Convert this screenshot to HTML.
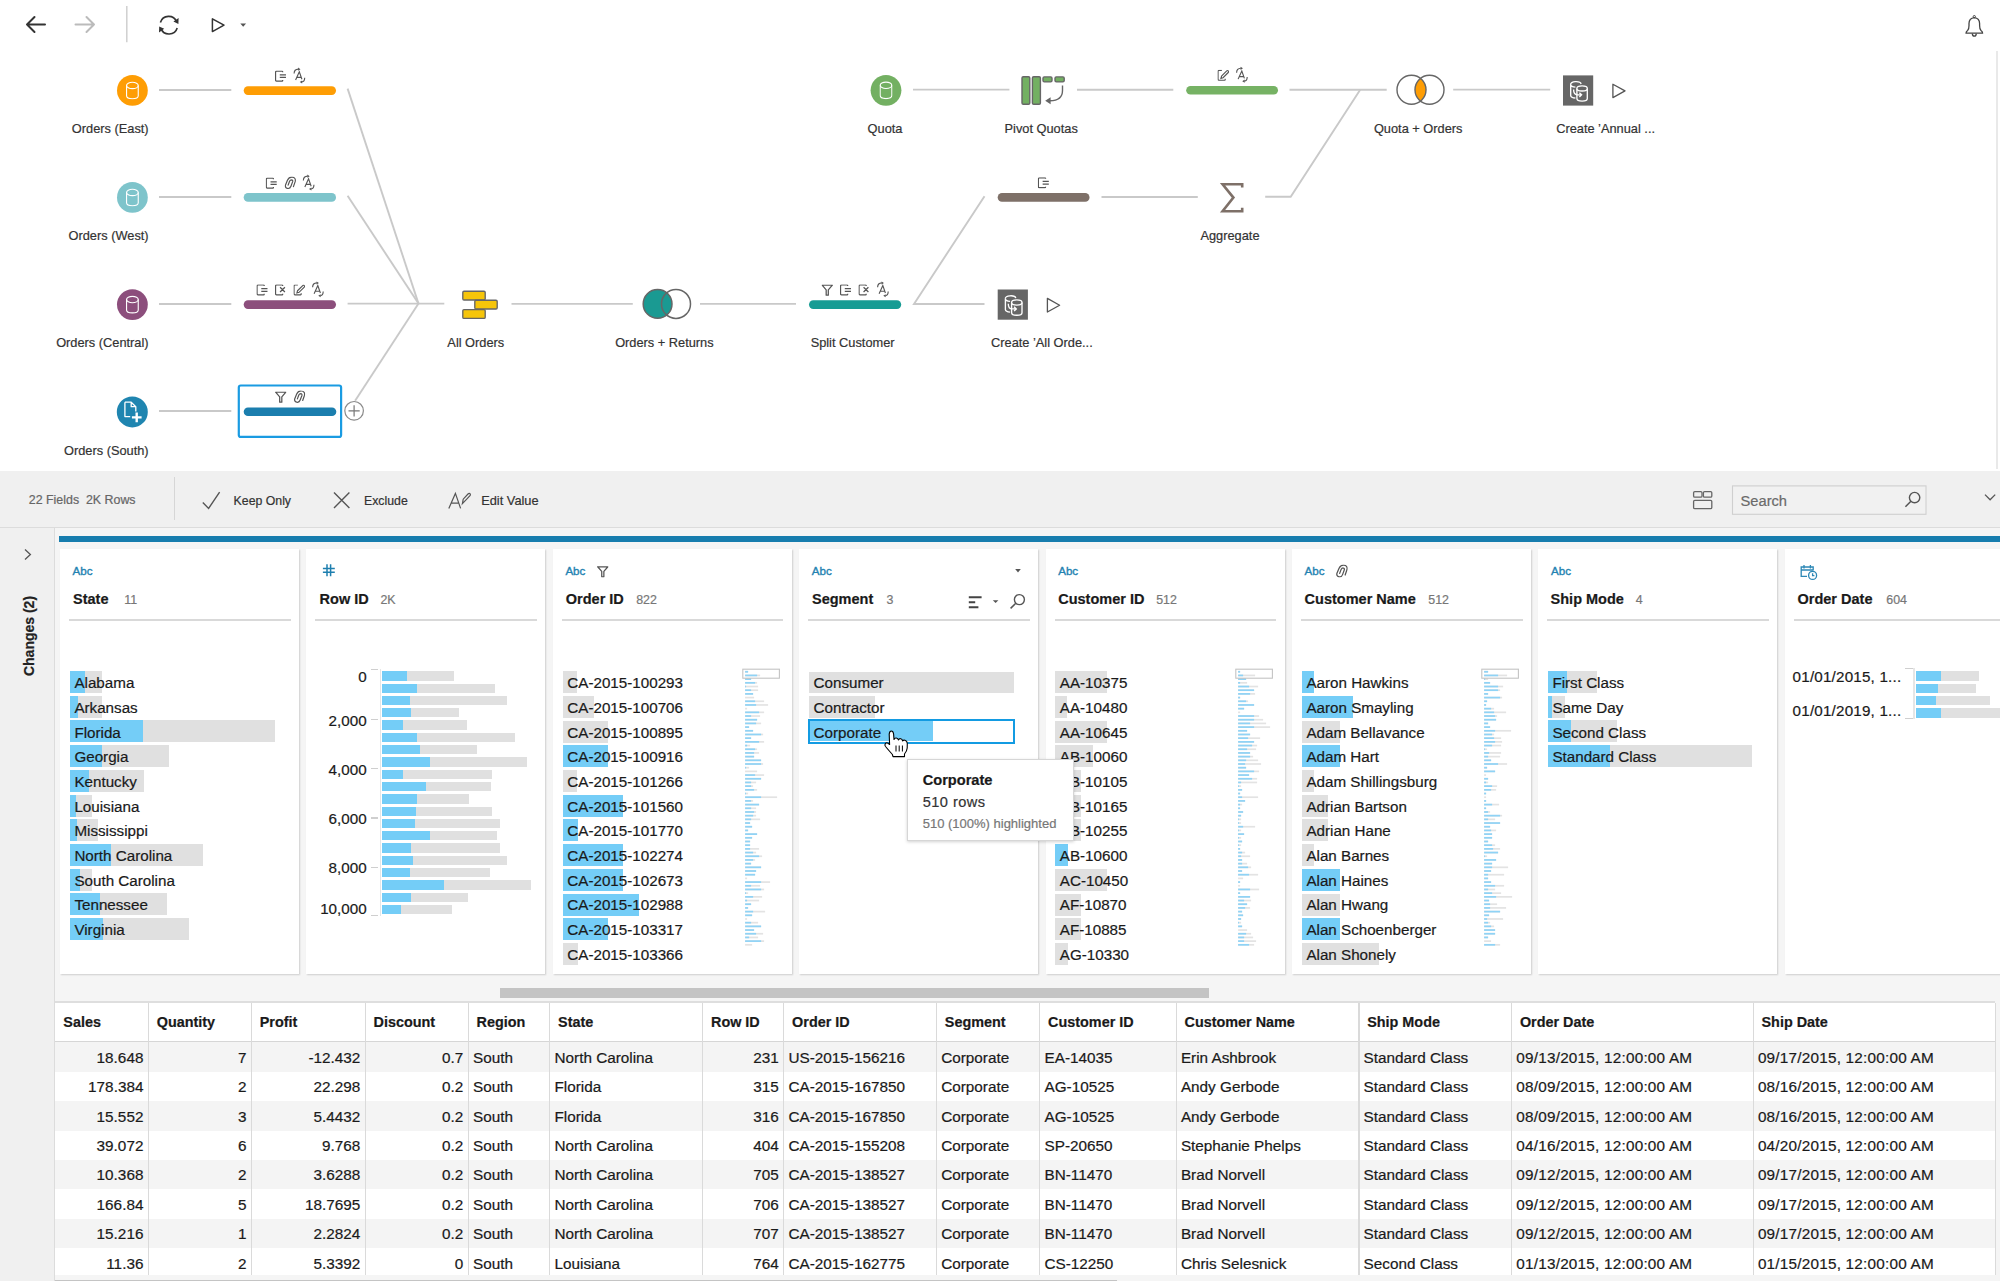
<!DOCTYPE html><html><head><meta charset="utf-8"><title>Tableau Prep</title><style>
*{margin:0;padding:0;box-sizing:border-box}
html,body{width:2000px;height:1281px;overflow:hidden}
body{position:relative;background:#fff;font-family:"Liberation Sans",sans-serif;color:#333}
.a{position:absolute}
.t{position:absolute;white-space:nowrap;line-height:1;-webkit-text-stroke:0.2px currentColor}
svg{position:absolute;overflow:visible}

</style></head><body>
<svg width="0" height="0" style="left:0;top:0"><defs>
<symbol id="i-clean" viewBox="0 0 12 12"><path d="M8 1.6V1.2Q8 .6 7.4 .6H1.6Q.6 .6 .6 1.6V9.8Q.6 10.8 1.6 10.8H7.4Q8 10.8 8 10.2V9.8M5 4.3H11.4M5 7.1H11.4" fill="none" stroke="#555" stroke-width="1.3"/></symbol>
<symbol id="i-remove" viewBox="0 0 12 12"><path d="M8 1.6V1.2Q8 .6 7.4 .6H1.6Q.6 .6 .6 1.6V9.8Q.6 10.8 1.6 10.8H7.4Q8 10.8 8 10.2V9.8M5.3 3 L10.3 7.8M10.3 3L5.3 7.8" fill="none" stroke="#555" stroke-width="1.3"/></symbol>
<symbol id="i-edit" viewBox="0 0 12 12"><path d="M4.6 .6H1.6Q.6 .6 .6 1.6V9.8Q.6 10.8 1.6 10.8H7.4Q8 10.8 8 10.2V9.2M4.2 6.6L9.6 1.2Q10.4 .4 11.2 1.2Q12 2 11.2 2.8L5.8 8.2L3.6 8.8Z" fill="none" stroke="#555" stroke-width="1.2"/></symbol>
<symbol id="i-rename" viewBox="0 0 14 15" style="overflow:visible"><g fill="none" stroke="#555" stroke-width="1.2"><path d="M2.85 12.6L6.85 3.8L9.65 11.8M4.1 9.9H9M1.25 5.6Q1.3 1.1 5.8 .9M12.65 10.3Q12.6 14.6 9.6 14.8"/></g><path d="M8.1 1L5.5 -.7L5.5 2.7Z M7.3 14.8L9.9 13.1L9.9 16.5Z" fill="#555"/></symbol>
<symbol id="i-funnel" viewBox="0 0 12 12"><path d="M.7 .8H11.3L7.1 5.6V11.2H4.9V5.6Z" fill="none" stroke="#555" stroke-width="1.3" stroke-linejoin="round"/></symbol>
<symbol id="i-clip" viewBox="0 0 12 13"><path d="M9.35 10.4L11.15 5.2Q12.15 1 7.95 .6Q4.75 .4 3.15 3.8L1.15 8.6Q.35 11.4 3.15 12.2Q5.75 12.8 6.75 10L8.55 5.2Q8.95 3.6 7.35 3.4Q5.95 3.4 5.35 4.8L3.85 8.8" fill="none" stroke="#555" stroke-width="1.25" stroke-linecap="round" stroke-linejoin="round"/></symbol>
<symbol id="i-cyl" viewBox="0 0 14 19"><path d="M.8 4.2V15.1Q.8 18.3 7 18.3Q13.2 18.3 13.2 15.1V4.2" fill="none" stroke="#fff" stroke-width="1.2"/><ellipse cx="7" cy="4.2" rx="6.2" ry="3.4" fill="none" stroke="#fff" stroke-width="1.2"/></symbol>
</defs></svg>
<svg class="a" style="left:0;top:0" width="260" height="50">
<path d="M27 24.5H45M34.5 17L27 24.5L34.5 32" fill="none" stroke="#333" stroke-width="2" stroke-linecap="round" stroke-linejoin="round"/>
<path d="M75.5 24.5H94M86.5 17L94 24.5L86.5 32" fill="none" stroke="#bbb" stroke-width="2" stroke-linecap="round" stroke-linejoin="round"/>
<line x1="126.8" y1="6" x2="126.8" y2="42.3" stroke="#cfcfcf" stroke-width="1.5"/>
<path d="M160.4 22.5A8.6 8.6 0 0 1 176.6 21.8M177.2 27.9A8.6 8.6 0 0 1 161 28.6" fill="none" stroke="#333" stroke-width="1.6"/>
<path d="M178.6 18L178.4 23.9L173.4 21.6Z M159 32.4L159.2 26.5L164.2 28.8Z" fill="#333"/>
<path d="M212.4 18.8V31.6L224 25.2Z" fill="none" stroke="#333" stroke-width="1.5" stroke-linejoin="round"/>
<path d="M240.3 23.4H246.1L243.2 26.7Z" fill="#555"/>
</svg>
<svg class="a" style="left:1960.4px;top:10.8px" width="30" height="30">
<path d="M6 22.2Q6 20.8 7.6 19.6Q9 18.4 9 14.5V12.5Q9 7.2 14.3 6.6Q19.6 7.2 19.6 12.5V14.5Q19.6 18.4 21 19.6Q22.6 20.8 22.6 22.2Z" fill="none" stroke="#444" stroke-width="1.3" stroke-linejoin="round"/>
<path d="M12.3 22.6Q12.6 25.2 14.3 25.2Q16 25.2 16.3 22.6" fill="none" stroke="#444" stroke-width="1.3"/>
<circle cx="14.3" cy="5.6" r="1.1" fill="none" stroke="#444" stroke-width="1"/>
</svg>
<div class="a" style="left:1995.80px;top:51.00px;width:1.80px;height:418.00px;background:#e9e9e9;"></div>
<svg class="a" style="left:0;top:0" width="2000" height="471"><line x1="159" y1="90" x2="231.3" y2="90" stroke="#c9c9c9" stroke-width="1.9"/><line x1="159" y1="197" x2="231.3" y2="197" stroke="#c9c9c9" stroke-width="1.9"/><line x1="159" y1="304" x2="231.3" y2="304" stroke="#c9c9c9" stroke-width="1.9"/><line x1="159" y1="411" x2="231.3" y2="411" stroke="#c9c9c9" stroke-width="1.9"/><line x1="347.6" y1="88.6" x2="418.5" y2="303.6" stroke="#c9c9c9" stroke-width="1.9"/><line x1="347.6" y1="195.8" x2="418.5" y2="303.6" stroke="#c9c9c9" stroke-width="1.9"/><line x1="347.6" y1="303.6" x2="444.3" y2="303.6" stroke="#c9c9c9" stroke-width="1.9"/><line x1="355.1" y1="400.8" x2="418.5" y2="303.6" stroke="#c9c9c9" stroke-width="1.9"/><line x1="511.5" y1="303.9" x2="632.8" y2="303.9" stroke="#c9c9c9" stroke-width="1.9"/><line x1="700" y1="303.9" x2="796" y2="303.9" stroke="#c9c9c9" stroke-width="1.9"/><polyline points="984.5,196.2 914,304 984.5,304" fill="none" stroke="#c9c9c9" stroke-width="1.9" stroke-linejoin="miter"/><line x1="913" y1="89.6" x2="1009.4" y2="89.6" stroke="#c9c9c9" stroke-width="1.9"/><line x1="1077" y1="89.7" x2="1173.3" y2="89.7" stroke="#c9c9c9" stroke-width="1.9"/><line x1="1289.5" y1="89.7" x2="1386.7" y2="89.7" stroke="#c9c9c9" stroke-width="1.9"/><polyline points="1265.2,196.8 1290.7,196.8 1360.2,89.7" fill="none" stroke="#c9c9c9" stroke-width="1.9" stroke-linejoin="miter"/><line x1="1101.5" y1="197" x2="1197.8" y2="197" stroke="#c9c9c9" stroke-width="1.9"/><line x1="1453.2" y1="89.6" x2="1550.2" y2="89.6" stroke="#c9c9c9" stroke-width="1.9"/><circle cx="132.4" cy="90.4" r="15.4" fill="#FE9D04"/><use href="#i-cyl" x="125.8" y="81.10000000000001" width="13.2" height="18.6"/><circle cx="132.4" cy="197.4" r="15.4" fill="#7EC4CB"/><use href="#i-cyl" x="125.8" y="188.1" width="13.2" height="18.6"/><circle cx="132.4" cy="304.6" r="15.4" fill="#8C4E7C"/><use href="#i-cyl" x="125.8" y="295.3" width="13.2" height="18.6"/><circle cx="886" cy="90.3" r="15.4" fill="#73B062"/><use href="#i-cyl" x="879.4" y="81" width="13.2" height="18.6"/><circle cx="132.3" cy="411.9" r="15.5" fill="#1F85B0"/><path d="M124.9 402.2H131.2L135.8 406.7V411.5M124.9 402.2V416.6H130.2M131.2 402.2V406.7H135.8" fill="none" stroke="#fff" stroke-width="1.3" stroke-linejoin="round"/><path d="M136.7 412.6V422.3M131.9 417.4H141.6" stroke="#fff" stroke-width="2.4"/><rect x="243.7" y="86.3" width="92.30000000000001" height="8.6" rx="4.3" fill="#FE9D04"/><use href="#i-clean" x="274.95" y="70.60000000000001" width="11.6" height="11.6"/><use href="#i-rename" x="292.95" y="68.2" width="13" height="14"/><rect x="243.7" y="193.1" width="92.30000000000001" height="8.6" rx="4.3" fill="#7EC4CB"/><use href="#i-clean" x="265.7" y="177.6" width="11.6" height="11.6"/><use href="#i-clip" x="284.4" y="176.6" width="11.6" height="12.57"/><use href="#i-rename" x="302.2" y="175.2" width="13" height="14"/><rect x="243.7" y="300.3" width="92.30000000000001" height="8.6" rx="4.3" fill="#8C4E7C"/><use href="#i-clean" x="256.45" y="284.4" width="11.6" height="11.6"/><use href="#i-remove" x="274.95" y="284.4" width="11.6" height="11.6"/><use href="#i-edit" x="293.45" y="284.4" width="11.6" height="11.6"/><use href="#i-rename" x="311.45" y="282" width="13" height="14"/><rect x="238.8" y="385.5" width="102.3" height="51.4" rx="2" fill="#fff" stroke="#1A9BE2" stroke-width="2.2"/><rect x="243.7" y="407.5" width="92.60000000000002" height="8.6" rx="4.3" fill="#1B7EAE"/><use href="#i-funnel" x="274.95" y="391.4" width="11.6" height="11.6"/><use href="#i-clip" x="293.65" y="390.4" width="11.6" height="12.57"/><circle cx="354.1" cy="410.8" r="9.3" fill="#fff" stroke="#8a8a8a" stroke-width="1.2"/><path d="M354.1 405.2V416.4M348.5 410.8H359.7" stroke="#777" stroke-width="1.2"/><rect x="462.8" y="291.2" width="22.4" height="8.8" rx="1.2" fill="#F6C50A" stroke="#666" stroke-width="1.35"/><rect x="474.8" y="300.2" width="22.4" height="8.8" rx="1.2" fill="#F6C50A" stroke="#666" stroke-width="1.35"/><rect x="462.8" y="309.6" width="22.4" height="8.8" rx="1.2" fill="#F6C50A" stroke="#666" stroke-width="1.35"/><circle cx="657.6" cy="303.9" r="14.4" fill="#1A9A92" stroke="#666" stroke-width="1.5"/><circle cx="676" cy="303.9" r="14.5" fill="none" stroke="#666" stroke-width="1.5"/><rect x="809" y="300.3" width="92.20000000000005" height="8.6" rx="4.3" fill="#179C94"/><use href="#i-funnel" x="821.45" y="284.4" width="11.6" height="11.6"/><use href="#i-clean" x="839.95" y="284.4" width="11.6" height="11.6"/><use href="#i-remove" x="858.45" y="284.4" width="11.6" height="11.6"/><use href="#i-rename" x="876.45" y="282" width="13" height="14"/><rect x="997.7" y="193.1" width="91.79999999999995" height="8.6" rx="4.3" fill="#7E7068"/><use href="#i-clean" x="1037.8" y="177.20000000000002" width="11.6" height="11.6"/><rect x="997.7" y="289.5" width="30.2" height="30.2" fill="#666"/><g transform="translate(997.7,289.5)" fill="none" stroke="#fff" stroke-width="1.35"><path d="M7.7 9.2A5.2 2.6 0 0 1 18.1 8.6M7.7 9.2A5.2 2.6 0 0 0 12.4 11.8M7.7 9.2V20.2A5.2 2.6 0 0 0 12.4 22.6"/><path d="M13.9 13V23.2A5.2 2.6 0 0 0 24.3 23.2V13" fill="#666"/><ellipse cx="19.1" cy="13" rx="5.2" ry="2.6" fill="#666"/><path d="M10.6 14.2Q10.6 19.4 14.4 19.4H18.4M16.4 17.3L18.6 19.4L16.4 21.5"/></g><rect x="1563" y="75.4" width="30.2" height="30.2" fill="#666"/><g transform="translate(1563,75.4)" fill="none" stroke="#fff" stroke-width="1.35"><path d="M7.7 9.2A5.2 2.6 0 0 1 18.1 8.6M7.7 9.2A5.2 2.6 0 0 0 12.4 11.8M7.7 9.2V20.2A5.2 2.6 0 0 0 12.4 22.6"/><path d="M13.9 13V23.2A5.2 2.6 0 0 0 24.3 23.2V13" fill="#666"/><ellipse cx="19.1" cy="13" rx="5.2" ry="2.6" fill="#666"/><path d="M10.6 14.2Q10.6 19.4 14.4 19.4H18.4M16.4 17.3L18.6 19.4L16.4 21.5"/></g><path d="M1047.4 298.4V312L1059.6 305.2Z" fill="none" stroke="#555" stroke-width="1.3" stroke-linejoin="round"/><path d="M1612.9 84.2V97.6L1625 90.9Z" fill="none" stroke="#555" stroke-width="1.3" stroke-linejoin="round"/><rect x="1022" y="76.8" width="7.8" height="27.4" rx="1.3" fill="#73B062" stroke="#666" stroke-width="1.4"/><rect x="1032.4" y="76.8" width="8" height="27.4" rx="1.3" fill="#73B062" stroke="#666" stroke-width="1.4"/><rect x="1043" y="76.9" width="9" height="5" rx="1.3" fill="#73B062" stroke="#666" stroke-width="1.4"/><rect x="1055" y="76.9" width="9.2" height="5" rx="1.3" fill="#73B062" stroke="#666" stroke-width="1.4"/><path d="M1062.5 85.4V90.5Q1062.5 100.6 1050 100.8" fill="none" stroke="#666" stroke-width="1.4"/><path d="M1045.2 100.8L1050.6 97.3L1050.6 104.3Z" fill="#666"/><rect x="1186.2" y="86.0" width="91.79999999999995" height="8.6" rx="4.3" fill="#76B264"/><use href="#i-edit" x="1217.45" y="69.80000000000001" width="11.6" height="11.6"/><use href="#i-rename" x="1235.45" y="67.4" width="13" height="14"/><path d="M1242.2 187.5V184.2H1222.6L1233.4 197.6L1222.6 211.2H1242.2V207.8" fill="none" stroke="#7E7068" stroke-width="2.6" stroke-linejoin="miter"/><path d="M1420.5 78.2A14.5 14.5 0 0 1 1420.5 101.2A14.5 14.5 0 0 1 1420.5 78.2Z" fill="#FE9D04"/><circle cx="1411.5" cy="89.7" r="14.5" fill="none" stroke="#666" stroke-width="1.4"/><circle cx="1429.5" cy="89.7" r="14.5" fill="none" stroke="#666" stroke-width="1.4"/></svg>
<div class="t" style="top:123px;font-size:12.8px;color:#333;left:-51.40px;width:200px;text-align:right;">Orders (East)</div>
<div class="t" style="top:230px;font-size:12.8px;color:#333;left:-51.40px;width:200px;text-align:right;">Orders (West)</div>
<div class="t" style="top:337px;font-size:12.8px;color:#333;left:-51.40px;width:200px;text-align:right;">Orders (Central)</div>
<div class="t" style="top:445px;font-size:12.8px;color:#333;left:-51.40px;width:200px;text-align:right;">Orders (South)</div>
<div class="t" style="top:337px;font-size:12.8px;color:#333;left:375.80px;width:200px;text-align:center;">All Orders</div>
<div class="t" style="top:337px;font-size:12.8px;color:#333;left:564.40px;width:200px;text-align:center;">Orders + Returns</div>
<div class="t" style="top:337px;font-size:12.8px;color:#333;left:752.60px;width:200px;text-align:center;">Split Customer</div>
<div class="t" style="top:337px;font-size:12.8px;color:#333;left:941.90px;width:200px;text-align:center;">Create ’All Orde...</div>
<div class="t" style="top:123px;font-size:12.8px;color:#333;left:785.00px;width:200px;text-align:center;">Quota</div>
<div class="t" style="top:123px;font-size:12.8px;color:#333;left:941.20px;width:200px;text-align:center;">Pivot Quotas</div>
<div class="t" style="top:123px;font-size:12.8px;color:#333;left:1318.20px;width:200px;text-align:center;">Quota + Orders</div>
<div class="t" style="top:123px;font-size:12.8px;color:#333;left:1505.60px;width:200px;text-align:center;">Create ’Annual ...</div>
<div class="t" style="top:230px;font-size:12.8px;color:#333;left:1130.00px;width:200px;text-align:center;">Aggregate</div>
<div class="a" style="left:0.00px;top:471.00px;width:2000.00px;height:810.00px;background:#f0f0f0;"></div>
<div class="a" style="left:55.00px;top:528.00px;width:1945.00px;height:753.00px;background:#f5f5f5;"></div>
<div class="a" style="left:0.00px;top:527.00px;width:2000.00px;height:1.30px;background:#dcdcdc;"></div>
<div class="a" style="left:54.00px;top:528.00px;width:1.20px;height:753.00px;background:#dcdcdc;"></div>
<div class="a" style="left:173.60px;top:477.00px;width:1.20px;height:43.00px;background:#d6d6d6;"></div>
<div class="t" style="top:494px;font-size:12.4px;color:#666;left:28.80px;">22 Fields&nbsp;&nbsp;2K Rows</div>
<svg class="a" style="left:0;top:471px" width="2000" height="57">
<path d="M202.8 31.5L208.6 37.4L219.6 21.2" fill="none" stroke="#555" stroke-width="1.4"/>
<path d="M334 21.6L349.4 37M349.4 21.6L334 37" fill="none" stroke="#555" stroke-width="1.4"/>
<path d="M448.8 37.4L455.4 22.4L460.6 37.4M451 32.2H458.6M462.4 32.6L467.2 27.6L470.2 24.4Q470.8 23.2 469.8 22.6Q469 22 468 23L463.2 28.2L462.4 32.6Z" fill="none" stroke="#555" stroke-width="1.2"/>
<rect x="1693.6" y="20.6" width="8.4" height="5.6" rx="1.2" fill="none" stroke="#666" stroke-width="1.3"/>
<rect x="1703.4" y="20.6" width="8.4" height="5.6" rx="1.2" fill="none" stroke="#666" stroke-width="1.3"/>
<rect x="1693.6" y="29.4" width="18.2" height="8.2" rx="1.2" fill="none" stroke="#666" stroke-width="1.3"/>
<rect x="1732.5" y="14.9" width="193.5" height="28.4" fill="#f1f1f1" stroke="#cfcfcf" stroke-width="1.1"/>
<circle cx="1914.6" cy="26.6" r="5.2" fill="none" stroke="#555" stroke-width="1.4"/>
<path d="M1910.9 30.3L1905.4 35.8" stroke="#555" stroke-width="1.5"/>
<path d="M1985 23.6L1990.1 28.8L1995.2 23.6" fill="none" stroke="#555" stroke-width="1.3"/>
</svg>
<div class="t" style="top:495px;font-size:12.3px;color:#333;left:233.60px;">Keep Only</div>
<div class="t" style="top:495px;font-size:12.3px;color:#333;left:364.00px;">Exclude</div>
<div class="t" style="top:495px;font-size:12.8px;color:#333;left:481.20px;">Edit Value</div>
<div class="t" style="top:494px;font-size:14.7px;color:#6a6a6a;left:1740.50px;">Search</div>
<svg class="a" style="left:0;top:528px" width="54" height="40"><path d="M25 21.5L30.4 26.5L25 31.5" fill="none" stroke="#555" stroke-width="1.3"/></svg>
<div class="t" style="left:29.2px;top:636.2px;font-size:14px;font-weight:bold;color:#222;transform:translate(-50%,-50%) rotate(-90deg);">Changes (2)</div>
<div class="a" style="left:59.00px;top:536.00px;width:1941.00px;height:6.00px;background:#177DAE;"></div>
<div class="a" style="left:60.00px;top:549.00px;width:239.00px;height:425.00px;background:#fff;box-shadow:1px 1px 1.5px rgba(0,0,0,0.16);"></div>
<div class="a" style="left:69.00px;top:619.40px;width:221.60px;height:1.50px;background:#d9d9d9;"></div>
<div class="a" style="left:306.40px;top:549.00px;width:239.00px;height:425.00px;background:#fff;box-shadow:1px 1px 1.5px rgba(0,0,0,0.16);"></div>
<div class="a" style="left:315.40px;top:619.40px;width:221.60px;height:1.50px;background:#d9d9d9;"></div>
<div class="a" style="left:552.80px;top:549.00px;width:239.00px;height:425.00px;background:#fff;box-shadow:1px 1px 1.5px rgba(0,0,0,0.16);"></div>
<div class="a" style="left:561.80px;top:619.40px;width:221.60px;height:1.50px;background:#d9d9d9;"></div>
<div class="a" style="left:799.20px;top:549.00px;width:239.00px;height:425.00px;background:#fff;box-shadow:1px 1px 1.5px rgba(0,0,0,0.16);"></div>
<div class="a" style="left:808.20px;top:619.40px;width:221.60px;height:1.50px;background:#d9d9d9;"></div>
<div class="a" style="left:1045.60px;top:549.00px;width:239.00px;height:425.00px;background:#fff;box-shadow:1px 1px 1.5px rgba(0,0,0,0.16);"></div>
<div class="a" style="left:1054.60px;top:619.40px;width:221.60px;height:1.50px;background:#d9d9d9;"></div>
<div class="a" style="left:1292.00px;top:549.00px;width:239.00px;height:425.00px;background:#fff;box-shadow:1px 1px 1.5px rgba(0,0,0,0.16);"></div>
<div class="a" style="left:1301.00px;top:619.40px;width:221.60px;height:1.50px;background:#d9d9d9;"></div>
<div class="a" style="left:1538.40px;top:549.00px;width:239.00px;height:425.00px;background:#fff;box-shadow:1px 1px 1.5px rgba(0,0,0,0.16);"></div>
<div class="a" style="left:1547.40px;top:619.40px;width:221.60px;height:1.50px;background:#d9d9d9;"></div>
<div class="a" style="left:1784.80px;top:549.00px;width:215.20px;height:425.00px;background:#fff;box-shadow:1px 1px 1.5px rgba(0,0,0,0.16);"></div>
<div class="a" style="left:1793.80px;top:619.40px;width:206.20px;height:1.50px;background:#d9d9d9;"></div>
<div class="t" style="top:565px;font-size:11.6px;color:#2382B1;left:72.60px;-webkit-text-stroke:0.35px #2382B1;">Abc</div>
<div class="t" style="top:592px;font-size:14.5px;color:#1a1a1a;font-weight:bold;left:73.00px;">State</div>
<div class="t" style="top:594px;font-size:12.4px;color:#777;left:124.20px;">11</div>
<div class="t" style="top:592px;font-size:14.5px;color:#1a1a1a;font-weight:bold;left:319.60px;">Row ID</div>
<div class="t" style="top:594px;font-size:12.4px;color:#777;left:380.40px;">2K</div>
<div class="t" style="top:565px;font-size:11.6px;color:#2382B1;left:565.40px;-webkit-text-stroke:0.35px #2382B1;">Abc</div>
<div class="t" style="top:592px;font-size:14.5px;color:#1a1a1a;font-weight:bold;left:565.80px;">Order ID</div>
<div class="t" style="top:594px;font-size:12.4px;color:#777;left:636.20px;">822</div>
<div class="t" style="top:565px;font-size:11.6px;color:#2382B1;left:811.80px;-webkit-text-stroke:0.35px #2382B1;">Abc</div>
<div class="t" style="top:592px;font-size:14.5px;color:#1a1a1a;font-weight:bold;left:812.00px;">Segment</div>
<div class="t" style="top:594px;font-size:12.4px;color:#777;left:886.40px;">3</div>
<div class="t" style="top:565px;font-size:11.6px;color:#2382B1;left:1058.20px;-webkit-text-stroke:0.35px #2382B1;">Abc</div>
<div class="t" style="top:592px;font-size:14.5px;color:#1a1a1a;font-weight:bold;left:1058.20px;">Customer ID</div>
<div class="t" style="top:594px;font-size:12.4px;color:#777;left:1156.20px;">512</div>
<div class="t" style="top:565px;font-size:11.6px;color:#2382B1;left:1304.60px;-webkit-text-stroke:0.35px #2382B1;">Abc</div>
<div class="t" style="top:592px;font-size:14.5px;color:#1a1a1a;font-weight:bold;left:1304.60px;">Customer Name</div>
<div class="t" style="top:594px;font-size:12.4px;color:#777;left:1428.30px;">512</div>
<div class="t" style="top:565px;font-size:11.6px;color:#2382B1;left:1551.00px;-webkit-text-stroke:0.35px #2382B1;">Abc</div>
<div class="t" style="top:592px;font-size:14.5px;color:#1a1a1a;font-weight:bold;left:1550.60px;">Ship Mode</div>
<div class="t" style="top:594px;font-size:12.4px;color:#777;left:1635.80px;">4</div>
<div class="t" style="top:592px;font-size:14.5px;color:#1a1a1a;font-weight:bold;left:1797.50px;">Order Date</div>
<div class="t" style="top:594px;font-size:12.4px;color:#777;left:1886.30px;">604</div>
<svg class="a" style="left:0;top:0" width="2000" height="640">
<path d="M327 564.2V576.2M330.6 564.2V576.2M322.9 568.4H334.8M322.9 572.2H334.8" stroke="#1E7FAF" stroke-width="1.5"/>
<use href="#i-funnel" x="597" y="566" width="11.6" height="11.6"/>
<use href="#i-clip" x="1335.8" y="564.6" width="12" height="13"/>
<path d="M1015.2 569H1020.8L1018 572.4Z" fill="#555"/>
<path d="M968.8 597.2H981.6M968.8 602.3H975.2M968.8 607.2H978.4" stroke="#444" stroke-width="1.9"/>
<path d="M992.8 600.3H998.4L995.6 603Z" fill="#555"/>
<circle cx="1019.4" cy="599.6" r="5" fill="none" stroke="#555" stroke-width="1.4"/>
<path d="M1015.8 603.2L1010.6 608.4" stroke="#555" stroke-width="1.5"/>
<g fill="none" stroke="#2C87B5" stroke-width="1.3"><path d="M1807 576.4H1801.2V567H1813.2V570.6M1801.2 570H1813.2M1804 565V568.6M1810.4 565V568.6"/><circle cx="1812.6" cy="575.4" r="4"/><path d="M1812.6 573.2V575.6H1814.4"/></g>
</svg>
<div class="a" style="left:70.20px;top:671.00px;width:32.00px;height:22.00px;background:#e0e0e0;"></div>
<div class="a" style="left:70.20px;top:671.00px;width:14.80px;height:22.00px;background:#74CDF7;"></div>
<div class="t" style="top:675px;font-size:15.2px;color:#1a1a1a;left:74.40px;">Alabama</div>
<div class="a" style="left:70.20px;top:695.70px;width:31.80px;height:22.00px;background:#e0e0e0;"></div>
<div class="a" style="left:70.20px;top:695.70px;width:7.60px;height:22.00px;background:#74CDF7;"></div>
<div class="t" style="top:700px;font-size:15.2px;color:#1a1a1a;left:74.40px;">Arkansas</div>
<div class="a" style="left:70.20px;top:720.40px;width:204.60px;height:22.00px;background:#e0e0e0;"></div>
<div class="a" style="left:70.20px;top:720.40px;width:72.60px;height:22.00px;background:#74CDF7;"></div>
<div class="t" style="top:725px;font-size:15.2px;color:#1a1a1a;left:74.40px;">Florida</div>
<div class="a" style="left:70.20px;top:745.10px;width:98.40px;height:22.00px;background:#e0e0e0;"></div>
<div class="a" style="left:70.20px;top:745.10px;width:31.80px;height:22.00px;background:#74CDF7;"></div>
<div class="t" style="top:749px;font-size:15.2px;color:#1a1a1a;left:74.40px;">Georgia</div>
<div class="a" style="left:70.20px;top:769.80px;width:73.60px;height:22.00px;background:#e0e0e0;"></div>
<div class="a" style="left:70.20px;top:769.80px;width:18.70px;height:22.00px;background:#74CDF7;"></div>
<div class="t" style="top:774px;font-size:15.2px;color:#1a1a1a;left:74.40px;">Kentucky</div>
<div class="a" style="left:70.20px;top:794.50px;width:21.70px;height:22.00px;background:#e0e0e0;"></div>
<div class="a" style="left:70.20px;top:794.50px;width:5.80px;height:22.00px;background:#74CDF7;"></div>
<div class="t" style="top:799px;font-size:15.2px;color:#1a1a1a;left:74.40px;">Louisiana</div>
<div class="a" style="left:70.20px;top:819.20px;width:28.10px;height:22.00px;background:#e0e0e0;"></div>
<div class="a" style="left:70.20px;top:819.20px;width:7.30px;height:22.00px;background:#74CDF7;"></div>
<div class="t" style="top:823px;font-size:15.2px;color:#1a1a1a;left:74.40px;">Mississippi</div>
<div class="a" style="left:70.20px;top:843.90px;width:132.60px;height:22.00px;background:#e0e0e0;"></div>
<div class="a" style="left:70.20px;top:843.90px;width:40.70px;height:22.00px;background:#74CDF7;"></div>
<div class="t" style="top:848px;font-size:15.2px;color:#1a1a1a;left:74.40px;">North Carolina</div>
<div class="a" style="left:70.20px;top:868.60px;width:21.70px;height:22.00px;background:#e0e0e0;"></div>
<div class="a" style="left:70.20px;top:868.60px;width:9.80px;height:22.00px;background:#74CDF7;"></div>
<div class="t" style="top:873px;font-size:15.2px;color:#1a1a1a;left:74.40px;">South Carolina</div>
<div class="a" style="left:70.20px;top:893.30px;width:96.90px;height:22.00px;background:#e0e0e0;"></div>
<div class="a" style="left:70.20px;top:893.30px;width:29.60px;height:22.00px;background:#74CDF7;"></div>
<div class="t" style="top:897px;font-size:15.2px;color:#1a1a1a;left:74.40px;">Tennessee</div>
<div class="a" style="left:70.20px;top:918.00px;width:119.10px;height:22.00px;background:#e0e0e0;"></div>
<div class="a" style="left:70.20px;top:918.00px;width:33.30px;height:22.00px;background:#74CDF7;"></div>
<div class="t" style="top:922px;font-size:15.2px;color:#1a1a1a;left:74.40px;">Virginia</div>
<div class="a" style="left:379.60px;top:669.00px;width:1.30px;height:247.00px;background:#e6e6e6;"></div>
<div class="a" style="left:370.50px;top:668.70px;width:7.50px;height:1.20px;background:#cfcfcf;"></div>
<div class="a" style="left:370.50px;top:719.00px;width:7.50px;height:1.20px;background:#cfcfcf;"></div>
<div class="a" style="left:370.50px;top:768.10px;width:7.50px;height:1.20px;background:#cfcfcf;"></div>
<div class="a" style="left:370.50px;top:817.40px;width:7.50px;height:1.20px;background:#cfcfcf;"></div>
<div class="a" style="left:370.50px;top:866.70px;width:7.50px;height:1.20px;background:#cfcfcf;"></div>
<div class="a" style="left:370.50px;top:914.90px;width:7.50px;height:1.20px;background:#cfcfcf;"></div>
<div class="a" style="left:381.90px;top:671.20px;width:72.40px;height:9.40px;background:#e0e0e0;"></div>
<div class="a" style="left:381.90px;top:671.20px;width:25.60px;height:9.40px;background:#74CDF7;"></div>
<div class="a" style="left:381.90px;top:683.50px;width:113.50px;height:9.40px;background:#e0e0e0;"></div>
<div class="a" style="left:381.90px;top:683.50px;width:35.60px;height:9.40px;background:#74CDF7;"></div>
<div class="a" style="left:381.90px;top:695.80px;width:125.50px;height:9.40px;background:#e0e0e0;"></div>
<div class="a" style="left:381.90px;top:695.80px;width:28.00px;height:9.40px;background:#74CDF7;"></div>
<div class="a" style="left:381.90px;top:708.10px;width:77.30px;height:9.40px;background:#e0e0e0;"></div>
<div class="a" style="left:381.90px;top:708.10px;width:29.10px;height:9.40px;background:#74CDF7;"></div>
<div class="a" style="left:381.90px;top:720.40px;width:85.00px;height:9.40px;background:#e0e0e0;"></div>
<div class="a" style="left:381.90px;top:720.40px;width:20.90px;height:9.40px;background:#74CDF7;"></div>
<div class="a" style="left:381.90px;top:732.70px;width:132.80px;height:9.40px;background:#e0e0e0;"></div>
<div class="a" style="left:381.90px;top:732.70px;width:35.60px;height:9.40px;background:#74CDF7;"></div>
<div class="a" style="left:381.90px;top:745.00px;width:95.50px;height:9.40px;background:#e0e0e0;"></div>
<div class="a" style="left:381.90px;top:745.00px;width:38.00px;height:9.40px;background:#74CDF7;"></div>
<div class="a" style="left:381.90px;top:757.30px;width:145.30px;height:9.40px;background:#e0e0e0;"></div>
<div class="a" style="left:381.90px;top:757.30px;width:48.00px;height:9.40px;background:#74CDF7;"></div>
<div class="a" style="left:381.90px;top:769.60px;width:110.50px;height:9.40px;background:#e0e0e0;"></div>
<div class="a" style="left:381.90px;top:769.60px;width:20.90px;height:9.40px;background:#74CDF7;"></div>
<div class="a" style="left:381.90px;top:781.90px;width:109.60px;height:9.40px;background:#e0e0e0;"></div>
<div class="a" style="left:381.90px;top:781.90px;width:44.10px;height:9.40px;background:#74CDF7;"></div>
<div class="a" style="left:381.90px;top:794.20px;width:87.00px;height:9.40px;background:#e0e0e0;"></div>
<div class="a" style="left:381.90px;top:794.20px;width:35.60px;height:9.40px;background:#74CDF7;"></div>
<div class="a" style="left:381.90px;top:806.50px;width:109.70px;height:9.40px;background:#e0e0e0;"></div>
<div class="a" style="left:381.90px;top:806.50px;width:34.20px;height:9.40px;background:#74CDF7;"></div>
<div class="a" style="left:381.90px;top:818.80px;width:117.90px;height:9.40px;background:#e0e0e0;"></div>
<div class="a" style="left:381.90px;top:818.80px;width:33.30px;height:9.40px;background:#74CDF7;"></div>
<div class="a" style="left:381.90px;top:831.10px;width:115.20px;height:9.40px;background:#e0e0e0;"></div>
<div class="a" style="left:381.90px;top:831.10px;width:48.00px;height:9.40px;background:#74CDF7;"></div>
<div class="a" style="left:381.90px;top:843.40px;width:117.90px;height:9.40px;background:#e0e0e0;"></div>
<div class="a" style="left:381.90px;top:843.40px;width:29.10px;height:9.40px;background:#74CDF7;"></div>
<div class="a" style="left:381.90px;top:855.70px;width:125.30px;height:9.40px;background:#e0e0e0;"></div>
<div class="a" style="left:381.90px;top:855.70px;width:30.70px;height:9.40px;background:#74CDF7;"></div>
<div class="a" style="left:381.90px;top:868.00px;width:108.10px;height:9.40px;background:#e0e0e0;"></div>
<div class="a" style="left:381.90px;top:868.00px;width:28.00px;height:9.40px;background:#74CDF7;"></div>
<div class="a" style="left:381.90px;top:880.30px;width:148.80px;height:9.40px;background:#e0e0e0;"></div>
<div class="a" style="left:381.90px;top:880.30px;width:62.60px;height:9.40px;background:#74CDF7;"></div>
<div class="a" style="left:381.90px;top:892.60px;width:85.80px;height:9.40px;background:#e0e0e0;"></div>
<div class="a" style="left:381.90px;top:892.60px;width:29.10px;height:9.40px;background:#74CDF7;"></div>
<div class="a" style="left:381.90px;top:904.90px;width:70.10px;height:9.40px;background:#e0e0e0;"></div>
<div class="a" style="left:381.90px;top:904.90px;width:19.50px;height:9.40px;background:#74CDF7;"></div>
<div class="t" style="top:669px;font-size:15.2px;color:#1a1a1a;left:286.60px;width:80px;text-align:right;">0</div>
<div class="t" style="top:713px;font-size:15.2px;color:#1a1a1a;left:286.60px;width:80px;text-align:right;">2,000</div>
<div class="t" style="top:762px;font-size:15.2px;color:#1a1a1a;left:286.60px;width:80px;text-align:right;">4,000</div>
<div class="t" style="top:811px;font-size:15.2px;color:#1a1a1a;left:286.60px;width:80px;text-align:right;">6,000</div>
<div class="t" style="top:860px;font-size:15.2px;color:#1a1a1a;left:286.60px;width:80px;text-align:right;">8,000</div>
<div class="t" style="top:901px;font-size:15.2px;color:#1a1a1a;left:286.60px;width:80px;text-align:right;">10,000</div>
<div class="a" style="left:563.00px;top:671.20px;width:14.30px;height:22.00px;background:#e0e0e0;"></div>
<div class="t" style="top:675px;font-size:15.2px;color:#1a1a1a;left:567.30px;">CA-2015-100293</div>
<div class="a" style="left:563.00px;top:695.90px;width:30.50px;height:22.00px;background:#e0e0e0;"></div>
<div class="t" style="top:700px;font-size:15.2px;color:#1a1a1a;left:567.30px;">CA-2015-100706</div>
<div class="a" style="left:563.00px;top:720.60px;width:45.10px;height:22.00px;background:#e0e0e0;"></div>
<div class="t" style="top:725px;font-size:15.2px;color:#1a1a1a;left:567.30px;">CA-2015-100895</div>
<div class="a" style="left:563.00px;top:745.30px;width:45.10px;height:22.00px;background:#e0e0e0;"></div>
<div class="a" style="left:563.00px;top:745.30px;width:45.10px;height:22.00px;background:#74CDF7;"></div>
<div class="t" style="top:749px;font-size:15.2px;color:#1a1a1a;left:567.30px;">CA-2015-100916</div>
<div class="a" style="left:563.00px;top:770.00px;width:14.30px;height:22.00px;background:#e0e0e0;"></div>
<div class="t" style="top:774px;font-size:15.2px;color:#1a1a1a;left:567.30px;">CA-2015-101266</div>
<div class="a" style="left:563.00px;top:794.70px;width:60.20px;height:22.00px;background:#e0e0e0;"></div>
<div class="a" style="left:563.00px;top:794.70px;width:60.20px;height:22.00px;background:#74CDF7;"></div>
<div class="t" style="top:799px;font-size:15.2px;color:#1a1a1a;left:567.30px;">CA-2015-101560</div>
<div class="a" style="left:563.00px;top:819.40px;width:14.50px;height:22.00px;background:#e0e0e0;"></div>
<div class="a" style="left:563.00px;top:819.40px;width:14.50px;height:22.00px;background:#74CDF7;"></div>
<div class="t" style="top:823px;font-size:15.2px;color:#1a1a1a;left:567.30px;">CA-2015-101770</div>
<div class="a" style="left:563.00px;top:844.10px;width:60.20px;height:22.00px;background:#e0e0e0;"></div>
<div class="a" style="left:563.00px;top:844.10px;width:60.20px;height:22.00px;background:#74CDF7;"></div>
<div class="t" style="top:848px;font-size:15.2px;color:#1a1a1a;left:567.30px;">CA-2015-102274</div>
<div class="a" style="left:563.00px;top:868.80px;width:60.20px;height:22.00px;background:#e0e0e0;"></div>
<div class="a" style="left:563.00px;top:868.80px;width:60.20px;height:22.00px;background:#74CDF7;"></div>
<div class="t" style="top:873px;font-size:15.2px;color:#1a1a1a;left:567.30px;">CA-2015-102673</div>
<div class="a" style="left:563.00px;top:893.50px;width:76.00px;height:22.00px;background:#e0e0e0;"></div>
<div class="a" style="left:563.00px;top:893.50px;width:76.00px;height:22.00px;background:#74CDF7;"></div>
<div class="t" style="top:897px;font-size:15.2px;color:#1a1a1a;left:567.30px;">CA-2015-102988</div>
<div class="a" style="left:563.00px;top:918.20px;width:45.10px;height:22.00px;background:#e0e0e0;"></div>
<div class="a" style="left:563.00px;top:918.20px;width:45.10px;height:22.00px;background:#74CDF7;"></div>
<div class="t" style="top:922px;font-size:15.2px;color:#1a1a1a;left:567.30px;">CA-2015-103317</div>
<div class="a" style="left:563.00px;top:942.90px;width:14.50px;height:22.00px;background:#e0e0e0;"></div>
<div class="t" style="top:947px;font-size:15.2px;color:#1a1a1a;left:567.30px;">CA-2015-103366</div>
<div class="a" style="left:809.10px;top:671.50px;width:204.50px;height:21.40px;background:#e0e0e0;"></div>
<div class="t" style="top:675px;font-size:15.2px;color:#1a1a1a;left:813.60px;">Consumer</div>
<div class="a" style="left:809.10px;top:696.20px;width:66.10px;height:21.40px;background:#e0e0e0;"></div>
<div class="t" style="top:700px;font-size:15.2px;color:#1a1a1a;left:813.60px;">Contractor</div>
<div class="a" style="left:808px;top:719px;width:206.7px;height:24.5px;border:2.2px solid #139BE2;background:#fff"></div>
<div class="a" style="left:810.20px;top:721.20px;width:122.90px;height:20.10px;background:#74CDF7;"></div>
<div class="t" style="top:725px;font-size:15.2px;color:#1a1a1a;left:813.60px;">Corporate</div>
<div class="a" style="left:1055.40px;top:671.20px;width:51.60px;height:22.00px;background:#e0e0e0;"></div>
<div class="t" style="top:675px;font-size:15.2px;color:#1a1a1a;left:1059.80px;">AA-10375</div>
<div class="a" style="left:1055.40px;top:695.90px;width:12.10px;height:22.00px;background:#e0e0e0;"></div>
<div class="t" style="top:700px;font-size:15.2px;color:#1a1a1a;left:1059.80px;">AA-10480</div>
<div class="a" style="left:1055.40px;top:720.60px;width:51.60px;height:22.00px;background:#e0e0e0;"></div>
<div class="t" style="top:725px;font-size:15.2px;color:#1a1a1a;left:1059.80px;">AA-10645</div>
<div class="a" style="left:1055.40px;top:745.30px;width:38.10px;height:22.00px;background:#e0e0e0;"></div>
<div class="t" style="top:749px;font-size:15.2px;color:#1a1a1a;left:1059.80px;">AB-10060</div>
<div class="a" style="left:1055.40px;top:770.00px;width:25.60px;height:22.00px;background:#e0e0e0;"></div>
<div class="t" style="top:774px;font-size:15.2px;color:#1a1a1a;left:1059.80px;">AB-10105</div>
<div class="a" style="left:1055.40px;top:794.70px;width:25.60px;height:22.00px;background:#e0e0e0;"></div>
<div class="t" style="top:799px;font-size:15.2px;color:#1a1a1a;left:1059.80px;">AB-10165</div>
<div class="a" style="left:1055.40px;top:819.40px;width:25.60px;height:22.00px;background:#e0e0e0;"></div>
<div class="t" style="top:823px;font-size:15.2px;color:#1a1a1a;left:1059.80px;">AB-10255</div>
<div class="a" style="left:1055.40px;top:844.10px;width:12.50px;height:22.00px;background:#e0e0e0;"></div>
<div class="a" style="left:1055.40px;top:844.10px;width:12.50px;height:22.00px;background:#74CDF7;"></div>
<div class="t" style="top:848px;font-size:15.2px;color:#1a1a1a;left:1059.80px;">AB-10600</div>
<div class="a" style="left:1055.40px;top:868.80px;width:51.60px;height:22.00px;background:#e0e0e0;"></div>
<div class="t" style="top:873px;font-size:15.2px;color:#1a1a1a;left:1059.80px;">AC-10450</div>
<div class="a" style="left:1055.40px;top:893.50px;width:25.60px;height:22.00px;background:#e0e0e0;"></div>
<div class="t" style="top:897px;font-size:15.2px;color:#1a1a1a;left:1059.80px;">AF-10870</div>
<div class="a" style="left:1055.40px;top:918.20px;width:25.60px;height:22.00px;background:#e0e0e0;"></div>
<div class="t" style="top:922px;font-size:15.2px;color:#1a1a1a;left:1059.80px;">AF-10885</div>
<div class="a" style="left:1055.40px;top:942.90px;width:12.50px;height:22.00px;background:#e0e0e0;"></div>
<div class="t" style="top:947px;font-size:15.2px;color:#1a1a1a;left:1059.80px;">AG-10330</div>
<div class="a" style="left:1302.00px;top:671.20px;width:11.90px;height:22.00px;background:#e0e0e0;"></div>
<div class="a" style="left:1302.00px;top:671.20px;width:11.90px;height:22.00px;background:#74CDF7;"></div>
<div class="t" style="top:675px;font-size:15.2px;color:#1a1a1a;left:1306.40px;">Aaron Hawkins</div>
<div class="a" style="left:1302.00px;top:695.90px;width:51.20px;height:22.00px;background:#e0e0e0;"></div>
<div class="a" style="left:1302.00px;top:695.90px;width:51.20px;height:22.00px;background:#74CDF7;"></div>
<div class="t" style="top:700px;font-size:15.2px;color:#1a1a1a;left:1306.40px;">Aaron Smayling</div>
<div class="a" style="left:1302.00px;top:720.60px;width:37.90px;height:22.00px;background:#e0e0e0;"></div>
<div class="t" style="top:725px;font-size:15.2px;color:#1a1a1a;left:1306.40px;">Adam Bellavance</div>
<div class="a" style="left:1302.00px;top:745.30px;width:37.90px;height:22.00px;background:#e0e0e0;"></div>
<div class="a" style="left:1302.00px;top:745.30px;width:37.90px;height:22.00px;background:#74CDF7;"></div>
<div class="t" style="top:749px;font-size:15.2px;color:#1a1a1a;left:1306.40px;">Adam Hart</div>
<div class="a" style="left:1302.00px;top:770.00px;width:11.90px;height:22.00px;background:#e0e0e0;"></div>
<div class="t" style="top:774px;font-size:15.2px;color:#1a1a1a;left:1306.40px;">Adam Shillingsburg</div>
<div class="a" style="left:1302.00px;top:794.70px;width:25.60px;height:22.00px;background:#e0e0e0;"></div>
<div class="t" style="top:799px;font-size:15.2px;color:#1a1a1a;left:1306.40px;">Adrian Bartson</div>
<div class="a" style="left:1302.00px;top:819.40px;width:25.60px;height:22.00px;background:#e0e0e0;"></div>
<div class="t" style="top:823px;font-size:15.2px;color:#1a1a1a;left:1306.40px;">Adrian Hane</div>
<div class="a" style="left:1302.00px;top:844.10px;width:11.90px;height:22.00px;background:#e0e0e0;"></div>
<div class="t" style="top:848px;font-size:15.2px;color:#1a1a1a;left:1306.40px;">Alan Barnes</div>
<div class="a" style="left:1302.00px;top:868.80px;width:37.90px;height:22.00px;background:#e0e0e0;"></div>
<div class="a" style="left:1302.00px;top:868.80px;width:37.90px;height:22.00px;background:#74CDF7;"></div>
<div class="t" style="top:873px;font-size:15.2px;color:#1a1a1a;left:1306.40px;">Alan Haines</div>
<div class="a" style="left:1302.00px;top:893.50px;width:37.90px;height:22.00px;background:#e0e0e0;"></div>
<div class="t" style="top:897px;font-size:15.2px;color:#1a1a1a;left:1306.40px;">Alan Hwang</div>
<div class="a" style="left:1302.00px;top:918.20px;width:37.90px;height:22.00px;background:#e0e0e0;"></div>
<div class="a" style="left:1302.00px;top:918.20px;width:37.90px;height:22.00px;background:#74CDF7;"></div>
<div class="t" style="top:922px;font-size:15.2px;color:#1a1a1a;left:1306.40px;">Alan Schoenberger</div>
<div class="a" style="left:1302.00px;top:942.90px;width:77.00px;height:22.00px;background:#e0e0e0;"></div>
<div class="t" style="top:947px;font-size:15.2px;color:#1a1a1a;left:1306.40px;">Alan Shonely</div>
<div class="a" style="left:1548.20px;top:671.00px;width:49.20px;height:22.00px;background:#e0e0e0;"></div>
<div class="a" style="left:1548.20px;top:671.00px;width:18.40px;height:22.00px;background:#74CDF7;"></div>
<div class="t" style="top:675px;font-size:15.2px;color:#1a1a1a;left:1552.40px;">First Class</div>
<div class="a" style="left:1548.20px;top:695.70px;width:16.80px;height:22.00px;background:#e0e0e0;"></div>
<div class="a" style="left:1548.20px;top:695.70px;width:3.60px;height:22.00px;background:#74CDF7;"></div>
<div class="t" style="top:700px;font-size:15.2px;color:#1a1a1a;left:1552.40px;">Same Day</div>
<div class="a" style="left:1548.20px;top:720.40px;width:68.80px;height:22.00px;background:#e0e0e0;"></div>
<div class="a" style="left:1548.20px;top:720.40px;width:23.20px;height:22.00px;background:#74CDF7;"></div>
<div class="t" style="top:725px;font-size:15.2px;color:#1a1a1a;left:1552.40px;">Second Class</div>
<div class="a" style="left:1548.20px;top:745.10px;width:204.00px;height:22.00px;background:#e0e0e0;"></div>
<div class="a" style="left:1548.20px;top:745.10px;width:61.40px;height:22.00px;background:#74CDF7;"></div>
<div class="t" style="top:749px;font-size:15.2px;color:#1a1a1a;left:1552.40px;">Standard Class</div>
<div class="t" style="top:669px;font-size:15.2px;color:#1a1a1a;letter-spacing:0.2px;left:1792.60px;">01/01/2015, 1...</div>
<div class="t" style="top:703px;font-size:15.2px;color:#1a1a1a;letter-spacing:0.2px;left:1792.60px;">01/01/2019, 1...</div>
<div class="a" style="left:1913.30px;top:668.40px;width:1.30px;height:50.20px;background:#e6e6e6;"></div>
<div class="a" style="left:1905.40px;top:667.80px;width:7.90px;height:1.20px;background:#cfcfcf;"></div>
<div class="a" style="left:1905.40px;top:717.80px;width:7.90px;height:1.20px;background:#cfcfcf;"></div>
<div class="a" style="left:1916.20px;top:671.40px;width:63.00px;height:9.40px;background:#e0e0e0;"></div>
<div class="a" style="left:1916.20px;top:671.40px;width:24.80px;height:9.40px;background:#74CDF7;"></div>
<div class="a" style="left:1916.20px;top:683.90px;width:60.30px;height:9.40px;background:#e0e0e0;"></div>
<div class="a" style="left:1916.20px;top:683.90px;width:22.00px;height:9.40px;background:#74CDF7;"></div>
<div class="a" style="left:1916.20px;top:696.00px;width:74.00px;height:9.40px;background:#e0e0e0;"></div>
<div class="a" style="left:1916.20px;top:696.00px;width:19.80px;height:9.40px;background:#74CDF7;"></div>
<div class="a" style="left:1916.20px;top:708.30px;width:83.80px;height:9.40px;background:#e0e0e0;"></div>
<div class="a" style="left:1916.20px;top:708.30px;width:24.80px;height:9.40px;background:#74CDF7;"></div>
<svg class="a" style="left:0;top:0" width="2000" height="980"><rect x="745.0999999999999" y="670.90" width="3" height="1.7" fill="#e3e3e3"/><rect x="745.0999999999999" y="670.90" width="3" height="1.7" fill="#8fd3f6"/><rect x="745.0999999999999" y="674.59" width="15" height="1.7" fill="#e3e3e3"/><rect x="745.0999999999999" y="674.59" width="12" height="1.7" fill="#8fd3f6"/><rect x="745.0999999999999" y="678.28" width="6" height="1.7" fill="#e3e3e3"/><rect x="745.0999999999999" y="678.28" width="6" height="1.7" fill="#8fd3f6"/><rect x="745.0999999999999" y="681.97" width="12" height="1.7" fill="#e3e3e3"/><rect x="745.0999999999999" y="681.97" width="10" height="1.7" fill="#8fd3f6"/><rect x="745.0999999999999" y="685.66" width="13" height="1.7" fill="#e3e3e3"/><rect x="745.0999999999999" y="685.66" width="1" height="1.7" fill="#8fd3f6"/><rect x="745.0999999999999" y="689.35" width="13" height="1.7" fill="#e3e3e3"/><rect x="745.0999999999999" y="689.35" width="6" height="1.7" fill="#8fd3f6"/><rect x="745.0999999999999" y="693.04" width="8" height="1.7" fill="#e3e3e3"/><rect x="745.0999999999999" y="693.04" width="8" height="1.7" fill="#8fd3f6"/><rect x="745.0999999999999" y="696.73" width="9" height="1.7" fill="#e3e3e3"/><rect x="745.0999999999999" y="700.42" width="19" height="1.7" fill="#e3e3e3"/><rect x="745.0999999999999" y="700.42" width="10" height="1.7" fill="#8fd3f6"/><rect x="745.0999999999999" y="704.11" width="23" height="1.7" fill="#e3e3e3"/><rect x="745.0999999999999" y="704.11" width="11" height="1.7" fill="#8fd3f6"/><rect x="745.0999999999999" y="707.80" width="2" height="1.7" fill="#e3e3e3"/><rect x="745.0999999999999" y="711.49" width="19" height="1.7" fill="#e3e3e3"/><rect x="745.0999999999999" y="711.49" width="14" height="1.7" fill="#8fd3f6"/><rect x="745.0999999999999" y="715.18" width="15" height="1.7" fill="#e3e3e3"/><rect x="745.0999999999999" y="715.18" width="6" height="1.7" fill="#8fd3f6"/><rect x="745.0999999999999" y="718.87" width="12" height="1.7" fill="#e3e3e3"/><rect x="745.0999999999999" y="718.87" width="12" height="1.7" fill="#8fd3f6"/><rect x="745.0999999999999" y="722.56" width="16" height="1.7" fill="#e3e3e3"/><rect x="745.0999999999999" y="722.56" width="11" height="1.7" fill="#8fd3f6"/><rect x="745.0999999999999" y="726.25" width="4" height="1.7" fill="#e3e3e3"/><rect x="745.0999999999999" y="726.25" width="4" height="1.7" fill="#8fd3f6"/><rect x="745.0999999999999" y="729.94" width="8" height="1.7" fill="#e3e3e3"/><rect x="745.0999999999999" y="729.94" width="8" height="1.7" fill="#8fd3f6"/><rect x="745.0999999999999" y="733.63" width="18" height="1.7" fill="#e3e3e3"/><rect x="745.0999999999999" y="733.63" width="16" height="1.7" fill="#8fd3f6"/><rect x="745.0999999999999" y="737.32" width="6" height="1.7" fill="#e3e3e3"/><rect x="745.0999999999999" y="737.32" width="6" height="1.7" fill="#8fd3f6"/><rect x="745.0999999999999" y="741.01" width="19" height="1.7" fill="#e3e3e3"/><rect x="745.0999999999999" y="741.01" width="14" height="1.7" fill="#8fd3f6"/><rect x="745.0999999999999" y="744.70" width="5" height="1.7" fill="#e3e3e3"/><rect x="745.0999999999999" y="744.70" width="2" height="1.7" fill="#8fd3f6"/><rect x="745.0999999999999" y="748.39" width="12" height="1.7" fill="#e3e3e3"/><rect x="745.0999999999999" y="748.39" width="10" height="1.7" fill="#8fd3f6"/><rect x="745.0999999999999" y="752.08" width="14" height="1.7" fill="#e3e3e3"/><rect x="745.0999999999999" y="752.08" width="9" height="1.7" fill="#8fd3f6"/><rect x="745.0999999999999" y="755.77" width="9" height="1.7" fill="#e3e3e3"/><rect x="745.0999999999999" y="755.77" width="9" height="1.7" fill="#8fd3f6"/><rect x="745.0999999999999" y="759.46" width="16" height="1.7" fill="#e3e3e3"/><rect x="745.0999999999999" y="759.46" width="16" height="1.7" fill="#8fd3f6"/><rect x="745.0999999999999" y="763.15" width="18" height="1.7" fill="#e3e3e3"/><rect x="745.0999999999999" y="763.15" width="16" height="1.7" fill="#8fd3f6"/><rect x="745.0999999999999" y="766.84" width="4" height="1.7" fill="#e3e3e3"/><rect x="745.0999999999999" y="766.84" width="1" height="1.7" fill="#8fd3f6"/><rect x="745.0999999999999" y="770.53" width="12" height="1.7" fill="#e3e3e3"/><rect x="745.0999999999999" y="774.22" width="19" height="1.7" fill="#e3e3e3"/><rect x="745.0999999999999" y="774.22" width="10" height="1.7" fill="#8fd3f6"/><rect x="745.0999999999999" y="777.91" width="16" height="1.7" fill="#e3e3e3"/><rect x="745.0999999999999" y="777.91" width="16" height="1.7" fill="#8fd3f6"/><rect x="745.0999999999999" y="781.60" width="11" height="1.7" fill="#e3e3e3"/><rect x="745.0999999999999" y="781.60" width="6" height="1.7" fill="#8fd3f6"/><rect x="745.0999999999999" y="785.29" width="8" height="1.7" fill="#e3e3e3"/><rect x="745.0999999999999" y="785.29" width="6" height="1.7" fill="#8fd3f6"/><rect x="745.0999999999999" y="788.98" width="12" height="1.7" fill="#e3e3e3"/><rect x="745.0999999999999" y="788.98" width="9" height="1.7" fill="#8fd3f6"/><rect x="745.0999999999999" y="792.67" width="3" height="1.7" fill="#e3e3e3"/><rect x="745.0999999999999" y="792.67" width="1" height="1.7" fill="#8fd3f6"/><rect x="745.0999999999999" y="796.36" width="32" height="1.7" fill="#e3e3e3"/><rect x="745.0999999999999" y="796.36" width="16" height="1.7" fill="#8fd3f6"/><rect x="745.0999999999999" y="800.05" width="8" height="1.7" fill="#e3e3e3"/><rect x="745.0999999999999" y="800.05" width="6" height="1.7" fill="#8fd3f6"/><rect x="745.0999999999999" y="803.74" width="14" height="1.7" fill="#e3e3e3"/><rect x="745.0999999999999" y="803.74" width="14" height="1.7" fill="#8fd3f6"/><rect x="745.0999999999999" y="807.43" width="11" height="1.7" fill="#e3e3e3"/><rect x="745.0999999999999" y="807.43" width="6" height="1.7" fill="#8fd3f6"/><rect x="745.0999999999999" y="811.12" width="11" height="1.7" fill="#e3e3e3"/><rect x="745.0999999999999" y="811.12" width="9" height="1.7" fill="#8fd3f6"/><rect x="745.0999999999999" y="814.81" width="11" height="1.7" fill="#e3e3e3"/><rect x="745.0999999999999" y="814.81" width="8" height="1.7" fill="#8fd3f6"/><rect x="745.0999999999999" y="818.50" width="15" height="1.7" fill="#e3e3e3"/><rect x="745.0999999999999" y="818.50" width="6" height="1.7" fill="#8fd3f6"/><rect x="745.0999999999999" y="822.19" width="5" height="1.7" fill="#e3e3e3"/><rect x="745.0999999999999" y="822.19" width="5" height="1.7" fill="#8fd3f6"/><rect x="745.0999999999999" y="825.88" width="7" height="1.7" fill="#e3e3e3"/><rect x="745.0999999999999" y="825.88" width="7" height="1.7" fill="#8fd3f6"/><rect x="745.0999999999999" y="829.57" width="3" height="1.7" fill="#e3e3e3"/><rect x="745.0999999999999" y="829.57" width="3" height="1.7" fill="#8fd3f6"/><rect x="745.0999999999999" y="833.26" width="12" height="1.7" fill="#e3e3e3"/><rect x="745.0999999999999" y="833.26" width="12" height="1.7" fill="#8fd3f6"/><rect x="745.0999999999999" y="836.95" width="7" height="1.7" fill="#e3e3e3"/><rect x="745.0999999999999" y="836.95" width="7" height="1.7" fill="#8fd3f6"/><rect x="745.0999999999999" y="840.64" width="5" height="1.7" fill="#e3e3e3"/><rect x="745.0999999999999" y="840.64" width="5" height="1.7" fill="#8fd3f6"/><rect x="745.0999999999999" y="844.33" width="5" height="1.7" fill="#e3e3e3"/><rect x="745.0999999999999" y="844.33" width="5" height="1.7" fill="#8fd3f6"/><rect x="745.0999999999999" y="848.02" width="14" height="1.7" fill="#e3e3e3"/><rect x="745.0999999999999" y="848.02" width="5" height="1.7" fill="#8fd3f6"/><rect x="745.0999999999999" y="851.71" width="11" height="1.7" fill="#e3e3e3"/><rect x="745.0999999999999" y="851.71" width="8" height="1.7" fill="#8fd3f6"/><rect x="745.0999999999999" y="855.40" width="17" height="1.7" fill="#e3e3e3"/><rect x="745.0999999999999" y="855.40" width="14" height="1.7" fill="#8fd3f6"/><rect x="745.0999999999999" y="859.09" width="10" height="1.7" fill="#e3e3e3"/><rect x="745.0999999999999" y="859.09" width="8" height="1.7" fill="#8fd3f6"/><rect x="745.0999999999999" y="862.78" width="6" height="1.7" fill="#e3e3e3"/><rect x="745.0999999999999" y="862.78" width="6" height="1.7" fill="#8fd3f6"/><rect x="745.0999999999999" y="866.47" width="16" height="1.7" fill="#e3e3e3"/><rect x="745.0999999999999" y="866.47" width="16" height="1.7" fill="#8fd3f6"/><rect x="745.0999999999999" y="870.16" width="11" height="1.7" fill="#e3e3e3"/><rect x="745.0999999999999" y="870.16" width="11" height="1.7" fill="#8fd3f6"/><rect x="745.0999999999999" y="873.85" width="10" height="1.7" fill="#e3e3e3"/><rect x="745.0999999999999" y="873.85" width="10" height="1.7" fill="#8fd3f6"/><rect x="745.0999999999999" y="877.54" width="2" height="1.7" fill="#e3e3e3"/><rect x="745.0999999999999" y="881.23" width="25" height="1.7" fill="#e3e3e3"/><rect x="745.0999999999999" y="881.23" width="16" height="1.7" fill="#8fd3f6"/><rect x="745.0999999999999" y="884.92" width="15" height="1.7" fill="#e3e3e3"/><rect x="745.0999999999999" y="884.92" width="6" height="1.7" fill="#8fd3f6"/><rect x="745.0999999999999" y="888.61" width="19" height="1.7" fill="#e3e3e3"/><rect x="745.0999999999999" y="888.61" width="16" height="1.7" fill="#8fd3f6"/><rect x="745.0999999999999" y="892.30" width="3" height="1.7" fill="#e3e3e3"/><rect x="745.0999999999999" y="892.30" width="1" height="1.7" fill="#8fd3f6"/><rect x="745.0999999999999" y="895.99" width="17" height="1.7" fill="#e3e3e3"/><rect x="745.0999999999999" y="895.99" width="8" height="1.7" fill="#8fd3f6"/><rect x="745.0999999999999" y="899.68" width="14" height="1.7" fill="#e3e3e3"/><rect x="745.0999999999999" y="899.68" width="2" height="1.7" fill="#8fd3f6"/><rect x="745.0999999999999" y="903.37" width="6" height="1.7" fill="#e3e3e3"/><rect x="745.0999999999999" y="903.37" width="6" height="1.7" fill="#8fd3f6"/><rect x="745.0999999999999" y="907.06" width="3" height="1.7" fill="#e3e3e3"/><rect x="745.0999999999999" y="907.06" width="3" height="1.7" fill="#8fd3f6"/><rect x="745.0999999999999" y="910.75" width="20" height="1.7" fill="#e3e3e3"/><rect x="745.0999999999999" y="910.75" width="8" height="1.7" fill="#8fd3f6"/><rect x="745.0999999999999" y="914.44" width="7" height="1.7" fill="#e3e3e3"/><rect x="745.0999999999999" y="914.44" width="7" height="1.7" fill="#8fd3f6"/><rect x="745.0999999999999" y="918.13" width="2" height="1.7" fill="#e3e3e3"/><rect x="745.0999999999999" y="921.82" width="13" height="1.7" fill="#e3e3e3"/><rect x="745.0999999999999" y="921.82" width="6" height="1.7" fill="#8fd3f6"/><rect x="745.0999999999999" y="925.51" width="16" height="1.7" fill="#e3e3e3"/><rect x="745.0999999999999" y="925.51" width="16" height="1.7" fill="#8fd3f6"/><rect x="745.0999999999999" y="929.20" width="9" height="1.7" fill="#e3e3e3"/><rect x="745.0999999999999" y="929.20" width="9" height="1.7" fill="#8fd3f6"/><rect x="745.0999999999999" y="932.89" width="18" height="1.7" fill="#e3e3e3"/><rect x="745.0999999999999" y="932.89" width="11" height="1.7" fill="#8fd3f6"/><rect x="745.0999999999999" y="936.58" width="13" height="1.7" fill="#e3e3e3"/><rect x="745.0999999999999" y="936.58" width="4" height="1.7" fill="#8fd3f6"/><rect x="745.0999999999999" y="940.27" width="19" height="1.7" fill="#e3e3e3"/><rect x="745.0999999999999" y="940.27" width="16" height="1.7" fill="#8fd3f6"/><rect x="745.0999999999999" y="943.96" width="7" height="1.7" fill="#e3e3e3"/><rect x="742.8" y="669.2" width="36.6" height="9" fill="none" stroke="#c4c4c4" stroke-width="1.1"/><rect x="1238.1" y="670.90" width="2" height="1.7" fill="#e3e3e3"/><rect x="1238.1" y="670.90" width="2" height="1.7" fill="#8fd3f6"/><rect x="1238.1" y="674.59" width="17" height="1.7" fill="#e3e3e3"/><rect x="1238.1" y="674.59" width="5" height="1.7" fill="#8fd3f6"/><rect x="1238.1" y="678.28" width="8" height="1.7" fill="#e3e3e3"/><rect x="1238.1" y="678.28" width="8" height="1.7" fill="#8fd3f6"/><rect x="1238.1" y="681.97" width="9" height="1.7" fill="#e3e3e3"/><rect x="1238.1" y="681.97" width="2" height="1.7" fill="#8fd3f6"/><rect x="1238.1" y="685.66" width="20" height="1.7" fill="#e3e3e3"/><rect x="1238.1" y="685.66" width="11" height="1.7" fill="#8fd3f6"/><rect x="1238.1" y="689.35" width="16" height="1.7" fill="#e3e3e3"/><rect x="1238.1" y="689.35" width="16" height="1.7" fill="#8fd3f6"/><rect x="1238.1" y="693.04" width="17" height="1.7" fill="#e3e3e3"/><rect x="1238.1" y="693.04" width="12" height="1.7" fill="#8fd3f6"/><rect x="1238.1" y="696.73" width="2" height="1.7" fill="#e3e3e3"/><rect x="1238.1" y="696.73" width="2" height="1.7" fill="#8fd3f6"/><rect x="1238.1" y="700.42" width="10" height="1.7" fill="#e3e3e3"/><rect x="1238.1" y="700.42" width="8" height="1.7" fill="#8fd3f6"/><rect x="1238.1" y="704.11" width="16" height="1.7" fill="#e3e3e3"/><rect x="1238.1" y="704.11" width="16" height="1.7" fill="#8fd3f6"/><rect x="1238.1" y="707.80" width="6" height="1.7" fill="#e3e3e3"/><rect x="1238.1" y="707.80" width="6" height="1.7" fill="#8fd3f6"/><rect x="1238.1" y="711.49" width="2" height="1.7" fill="#e3e3e3"/><rect x="1238.1" y="715.18" width="21" height="1.7" fill="#e3e3e3"/><rect x="1238.1" y="715.18" width="16" height="1.7" fill="#8fd3f6"/><rect x="1238.1" y="718.87" width="25" height="1.7" fill="#e3e3e3"/><rect x="1238.1" y="718.87" width="16" height="1.7" fill="#8fd3f6"/><rect x="1238.1" y="722.56" width="28" height="1.7" fill="#e3e3e3"/><rect x="1238.1" y="722.56" width="12" height="1.7" fill="#8fd3f6"/><rect x="1238.1" y="726.25" width="32" height="1.7" fill="#e3e3e3"/><rect x="1238.1" y="726.25" width="16" height="1.7" fill="#8fd3f6"/><rect x="1238.1" y="729.94" width="9" height="1.7" fill="#e3e3e3"/><rect x="1238.1" y="729.94" width="9" height="1.7" fill="#8fd3f6"/><rect x="1238.1" y="733.63" width="12" height="1.7" fill="#e3e3e3"/><rect x="1238.1" y="733.63" width="12" height="1.7" fill="#8fd3f6"/><rect x="1238.1" y="737.32" width="22" height="1.7" fill="#e3e3e3"/><rect x="1238.1" y="737.32" width="10" height="1.7" fill="#8fd3f6"/><rect x="1238.1" y="741.01" width="16" height="1.7" fill="#e3e3e3"/><rect x="1238.1" y="741.01" width="16" height="1.7" fill="#8fd3f6"/><rect x="1238.1" y="744.70" width="19" height="1.7" fill="#e3e3e3"/><rect x="1238.1" y="744.70" width="14" height="1.7" fill="#8fd3f6"/><rect x="1238.1" y="748.39" width="18" height="1.7" fill="#e3e3e3"/><rect x="1238.1" y="748.39" width="9" height="1.7" fill="#8fd3f6"/><rect x="1238.1" y="752.08" width="12" height="1.7" fill="#e3e3e3"/><rect x="1238.1" y="752.08" width="12" height="1.7" fill="#8fd3f6"/><rect x="1238.1" y="755.77" width="15" height="1.7" fill="#e3e3e3"/><rect x="1238.1" y="755.77" width="12" height="1.7" fill="#8fd3f6"/><rect x="1238.1" y="759.46" width="20" height="1.7" fill="#e3e3e3"/><rect x="1238.1" y="759.46" width="8" height="1.7" fill="#8fd3f6"/><rect x="1238.1" y="763.15" width="23" height="1.7" fill="#e3e3e3"/><rect x="1238.1" y="763.15" width="7" height="1.7" fill="#8fd3f6"/><rect x="1238.1" y="766.84" width="8" height="1.7" fill="#e3e3e3"/><rect x="1238.1" y="766.84" width="8" height="1.7" fill="#8fd3f6"/><rect x="1238.1" y="770.53" width="21" height="1.7" fill="#e3e3e3"/><rect x="1238.1" y="770.53" width="16" height="1.7" fill="#8fd3f6"/><rect x="1238.1" y="774.22" width="11" height="1.7" fill="#e3e3e3"/><rect x="1238.1" y="774.22" width="11" height="1.7" fill="#8fd3f6"/><rect x="1238.1" y="777.91" width="19" height="1.7" fill="#e3e3e3"/><rect x="1238.1" y="777.91" width="14" height="1.7" fill="#8fd3f6"/><rect x="1238.1" y="781.60" width="19" height="1.7" fill="#e3e3e3"/><rect x="1238.1" y="781.60" width="3" height="1.7" fill="#8fd3f6"/><rect x="1238.1" y="785.29" width="3" height="1.7" fill="#e3e3e3"/><rect x="1238.1" y="785.29" width="1" height="1.7" fill="#8fd3f6"/><rect x="1238.1" y="788.98" width="4" height="1.7" fill="#e3e3e3"/><rect x="1238.1" y="788.98" width="4" height="1.7" fill="#8fd3f6"/><rect x="1238.1" y="792.67" width="2" height="1.7" fill="#e3e3e3"/><rect x="1238.1" y="792.67" width="2" height="1.7" fill="#8fd3f6"/><rect x="1238.1" y="796.36" width="20" height="1.7" fill="#e3e3e3"/><rect x="1238.1" y="796.36" width="4" height="1.7" fill="#8fd3f6"/><rect x="1238.1" y="800.05" width="7" height="1.7" fill="#e3e3e3"/><rect x="1238.1" y="800.05" width="7" height="1.7" fill="#8fd3f6"/><rect x="1238.1" y="803.74" width="4" height="1.7" fill="#e3e3e3"/><rect x="1238.1" y="803.74" width="2" height="1.7" fill="#8fd3f6"/><rect x="1238.1" y="807.43" width="2" height="1.7" fill="#e3e3e3"/><rect x="1238.1" y="807.43" width="2" height="1.7" fill="#8fd3f6"/><rect x="1238.1" y="811.12" width="5" height="1.7" fill="#e3e3e3"/><rect x="1238.1" y="811.12" width="5" height="1.7" fill="#8fd3f6"/><rect x="1238.1" y="814.81" width="3" height="1.7" fill="#e3e3e3"/><rect x="1238.1" y="814.81" width="3" height="1.7" fill="#8fd3f6"/><rect x="1238.1" y="818.50" width="3" height="1.7" fill="#e3e3e3"/><rect x="1238.1" y="818.50" width="1" height="1.7" fill="#8fd3f6"/><rect x="1238.1" y="822.19" width="3" height="1.7" fill="#e3e3e3"/><rect x="1238.1" y="822.19" width="1" height="1.7" fill="#8fd3f6"/><rect x="1238.1" y="825.88" width="17" height="1.7" fill="#e3e3e3"/><rect x="1238.1" y="825.88" width="5" height="1.7" fill="#8fd3f6"/><rect x="1238.1" y="829.57" width="3" height="1.7" fill="#e3e3e3"/><rect x="1238.1" y="829.57" width="1" height="1.7" fill="#8fd3f6"/><rect x="1238.1" y="833.26" width="6" height="1.7" fill="#e3e3e3"/><rect x="1238.1" y="833.26" width="6" height="1.7" fill="#8fd3f6"/><rect x="1238.1" y="836.95" width="3" height="1.7" fill="#e3e3e3"/><rect x="1238.1" y="836.95" width="1" height="1.7" fill="#8fd3f6"/><rect x="1238.1" y="840.64" width="4" height="1.7" fill="#e3e3e3"/><rect x="1238.1" y="840.64" width="4" height="1.7" fill="#8fd3f6"/><rect x="1238.1" y="844.33" width="3" height="1.7" fill="#e3e3e3"/><rect x="1238.1" y="844.33" width="1" height="1.7" fill="#8fd3f6"/><rect x="1238.1" y="848.02" width="2" height="1.7" fill="#e3e3e3"/><rect x="1238.1" y="848.02" width="2" height="1.7" fill="#8fd3f6"/><rect x="1238.1" y="851.71" width="7" height="1.7" fill="#e3e3e3"/><rect x="1238.1" y="851.71" width="4" height="1.7" fill="#8fd3f6"/><rect x="1238.1" y="855.40" width="12" height="1.7" fill="#e3e3e3"/><rect x="1238.1" y="855.40" width="3" height="1.7" fill="#8fd3f6"/><rect x="1238.1" y="859.09" width="4" height="1.7" fill="#e3e3e3"/><rect x="1238.1" y="859.09" width="4" height="1.7" fill="#8fd3f6"/><rect x="1238.1" y="862.78" width="9" height="1.7" fill="#e3e3e3"/><rect x="1238.1" y="862.78" width="4" height="1.7" fill="#8fd3f6"/><rect x="1238.1" y="866.47" width="13" height="1.7" fill="#e3e3e3"/><rect x="1238.1" y="866.47" width="10" height="1.7" fill="#8fd3f6"/><rect x="1238.1" y="870.16" width="4" height="1.7" fill="#e3e3e3"/><rect x="1238.1" y="870.16" width="4" height="1.7" fill="#8fd3f6"/><rect x="1238.1" y="873.85" width="20" height="1.7" fill="#e3e3e3"/><rect x="1238.1" y="873.85" width="11" height="1.7" fill="#8fd3f6"/><rect x="1238.1" y="877.54" width="5" height="1.7" fill="#e3e3e3"/><rect x="1238.1" y="881.23" width="2" height="1.7" fill="#e3e3e3"/><rect x="1238.1" y="881.23" width="2" height="1.7" fill="#8fd3f6"/><rect x="1238.1" y="884.92" width="2" height="1.7" fill="#e3e3e3"/><rect x="1238.1" y="888.61" width="21" height="1.7" fill="#e3e3e3"/><rect x="1238.1" y="888.61" width="12" height="1.7" fill="#8fd3f6"/><rect x="1238.1" y="892.30" width="2" height="1.7" fill="#e3e3e3"/><rect x="1238.1" y="892.30" width="2" height="1.7" fill="#8fd3f6"/><rect x="1238.1" y="895.99" width="12" height="1.7" fill="#e3e3e3"/><rect x="1238.1" y="895.99" width="12" height="1.7" fill="#8fd3f6"/><rect x="1238.1" y="899.68" width="13" height="1.7" fill="#e3e3e3"/><rect x="1238.1" y="899.68" width="6" height="1.7" fill="#8fd3f6"/><rect x="1238.1" y="903.37" width="9" height="1.7" fill="#e3e3e3"/><rect x="1238.1" y="903.37" width="9" height="1.7" fill="#8fd3f6"/><rect x="1238.1" y="907.06" width="12" height="1.7" fill="#e3e3e3"/><rect x="1238.1" y="907.06" width="7" height="1.7" fill="#8fd3f6"/><rect x="1238.1" y="910.75" width="4" height="1.7" fill="#e3e3e3"/><rect x="1238.1" y="910.75" width="4" height="1.7" fill="#8fd3f6"/><rect x="1238.1" y="914.44" width="5" height="1.7" fill="#e3e3e3"/><rect x="1238.1" y="914.44" width="5" height="1.7" fill="#8fd3f6"/><rect x="1238.1" y="918.13" width="3" height="1.7" fill="#e3e3e3"/><rect x="1238.1" y="918.13" width="3" height="1.7" fill="#8fd3f6"/><rect x="1238.1" y="921.82" width="3" height="1.7" fill="#e3e3e3"/><rect x="1238.1" y="921.82" width="1" height="1.7" fill="#8fd3f6"/><rect x="1238.1" y="925.51" width="4" height="1.7" fill="#e3e3e3"/><rect x="1238.1" y="925.51" width="4" height="1.7" fill="#8fd3f6"/><rect x="1238.1" y="929.20" width="9" height="1.7" fill="#e3e3e3"/><rect x="1238.1" y="932.89" width="13" height="1.7" fill="#e3e3e3"/><rect x="1238.1" y="932.89" width="8" height="1.7" fill="#8fd3f6"/><rect x="1238.1" y="936.58" width="15" height="1.7" fill="#e3e3e3"/><rect x="1238.1" y="936.58" width="6" height="1.7" fill="#8fd3f6"/><rect x="1238.1" y="940.27" width="18" height="1.7" fill="#e3e3e3"/><rect x="1238.1" y="940.27" width="6" height="1.7" fill="#8fd3f6"/><rect x="1238.1" y="943.96" width="16" height="1.7" fill="#e3e3e3"/><rect x="1238.1" y="943.96" width="11" height="1.7" fill="#8fd3f6"/><rect x="1235.8" y="669.2" width="36.6" height="9" fill="none" stroke="#c4c4c4" stroke-width="1.1"/><rect x="1484.1" y="670.90" width="4" height="1.7" fill="#e3e3e3"/><rect x="1484.1" y="670.90" width="4" height="1.7" fill="#8fd3f6"/><rect x="1484.1" y="674.59" width="23" height="1.7" fill="#e3e3e3"/><rect x="1484.1" y="674.59" width="14" height="1.7" fill="#8fd3f6"/><rect x="1484.1" y="678.28" width="4" height="1.7" fill="#e3e3e3"/><rect x="1484.1" y="678.28" width="1" height="1.7" fill="#8fd3f6"/><rect x="1484.1" y="681.97" width="6" height="1.7" fill="#e3e3e3"/><rect x="1484.1" y="681.97" width="6" height="1.7" fill="#8fd3f6"/><rect x="1484.1" y="685.66" width="19" height="1.7" fill="#e3e3e3"/><rect x="1484.1" y="685.66" width="14" height="1.7" fill="#8fd3f6"/><rect x="1484.1" y="689.35" width="16" height="1.7" fill="#e3e3e3"/><rect x="1484.1" y="689.35" width="14" height="1.7" fill="#8fd3f6"/><rect x="1484.1" y="693.04" width="4" height="1.7" fill="#e3e3e3"/><rect x="1484.1" y="693.04" width="4" height="1.7" fill="#8fd3f6"/><rect x="1484.1" y="696.73" width="18" height="1.7" fill="#e3e3e3"/><rect x="1484.1" y="696.73" width="16" height="1.7" fill="#8fd3f6"/><rect x="1484.1" y="700.42" width="3" height="1.7" fill="#e3e3e3"/><rect x="1484.1" y="700.42" width="3" height="1.7" fill="#8fd3f6"/><rect x="1484.1" y="704.11" width="2" height="1.7" fill="#e3e3e3"/><rect x="1484.1" y="704.11" width="2" height="1.7" fill="#8fd3f6"/><rect x="1484.1" y="707.80" width="10" height="1.7" fill="#e3e3e3"/><rect x="1484.1" y="707.80" width="7" height="1.7" fill="#8fd3f6"/><rect x="1484.1" y="711.49" width="22" height="1.7" fill="#e3e3e3"/><rect x="1484.1" y="711.49" width="10" height="1.7" fill="#8fd3f6"/><rect x="1484.1" y="715.18" width="13" height="1.7" fill="#e3e3e3"/><rect x="1484.1" y="715.18" width="11" height="1.7" fill="#8fd3f6"/><rect x="1484.1" y="718.87" width="12" height="1.7" fill="#e3e3e3"/><rect x="1484.1" y="718.87" width="12" height="1.7" fill="#8fd3f6"/><rect x="1484.1" y="722.56" width="4" height="1.7" fill="#e3e3e3"/><rect x="1484.1" y="722.56" width="4" height="1.7" fill="#8fd3f6"/><rect x="1484.1" y="726.25" width="6" height="1.7" fill="#e3e3e3"/><rect x="1484.1" y="726.25" width="6" height="1.7" fill="#8fd3f6"/><rect x="1484.1" y="729.94" width="27" height="1.7" fill="#e3e3e3"/><rect x="1484.1" y="729.94" width="11" height="1.7" fill="#8fd3f6"/><rect x="1484.1" y="733.63" width="10" height="1.7" fill="#e3e3e3"/><rect x="1484.1" y="733.63" width="8" height="1.7" fill="#8fd3f6"/><rect x="1484.1" y="737.32" width="17" height="1.7" fill="#e3e3e3"/><rect x="1484.1" y="737.32" width="10" height="1.7" fill="#8fd3f6"/><rect x="1484.1" y="741.01" width="18" height="1.7" fill="#e3e3e3"/><rect x="1484.1" y="741.01" width="11" height="1.7" fill="#8fd3f6"/><rect x="1484.1" y="744.70" width="17" height="1.7" fill="#e3e3e3"/><rect x="1484.1" y="744.70" width="8" height="1.7" fill="#8fd3f6"/><rect x="1484.1" y="748.39" width="3" height="1.7" fill="#e3e3e3"/><rect x="1484.1" y="748.39" width="1" height="1.7" fill="#8fd3f6"/><rect x="1484.1" y="752.08" width="17" height="1.7" fill="#e3e3e3"/><rect x="1484.1" y="752.08" width="5" height="1.7" fill="#8fd3f6"/><rect x="1484.1" y="755.77" width="16" height="1.7" fill="#e3e3e3"/><rect x="1484.1" y="755.77" width="4" height="1.7" fill="#8fd3f6"/><rect x="1484.1" y="759.46" width="7" height="1.7" fill="#e3e3e3"/><rect x="1484.1" y="759.46" width="7" height="1.7" fill="#8fd3f6"/><rect x="1484.1" y="763.15" width="23" height="1.7" fill="#e3e3e3"/><rect x="1484.1" y="763.15" width="14" height="1.7" fill="#8fd3f6"/><rect x="1484.1" y="766.84" width="3" height="1.7" fill="#e3e3e3"/><rect x="1484.1" y="766.84" width="3" height="1.7" fill="#8fd3f6"/><rect x="1484.1" y="770.53" width="11" height="1.7" fill="#e3e3e3"/><rect x="1484.1" y="770.53" width="11" height="1.7" fill="#8fd3f6"/><rect x="1484.1" y="774.22" width="2" height="1.7" fill="#e3e3e3"/><rect x="1484.1" y="777.91" width="4" height="1.7" fill="#e3e3e3"/><rect x="1484.1" y="777.91" width="4" height="1.7" fill="#8fd3f6"/><rect x="1484.1" y="781.60" width="4" height="1.7" fill="#e3e3e3"/><rect x="1484.1" y="781.60" width="2" height="1.7" fill="#8fd3f6"/><rect x="1484.1" y="785.29" width="13" height="1.7" fill="#e3e3e3"/><rect x="1484.1" y="785.29" width="8" height="1.7" fill="#8fd3f6"/><rect x="1484.1" y="788.98" width="12" height="1.7" fill="#e3e3e3"/><rect x="1484.1" y="788.98" width="7" height="1.7" fill="#8fd3f6"/><rect x="1484.1" y="792.67" width="2" height="1.7" fill="#e3e3e3"/><rect x="1484.1" y="792.67" width="2" height="1.7" fill="#8fd3f6"/><rect x="1484.1" y="796.36" width="2" height="1.7" fill="#e3e3e3"/><rect x="1484.1" y="800.05" width="2" height="1.7" fill="#e3e3e3"/><rect x="1484.1" y="800.05" width="2" height="1.7" fill="#8fd3f6"/><rect x="1484.1" y="803.74" width="15" height="1.7" fill="#e3e3e3"/><rect x="1484.1" y="803.74" width="8" height="1.7" fill="#8fd3f6"/><rect x="1484.1" y="807.43" width="2" height="1.7" fill="#e3e3e3"/><rect x="1484.1" y="807.43" width="2" height="1.7" fill="#8fd3f6"/><rect x="1484.1" y="811.12" width="6" height="1.7" fill="#e3e3e3"/><rect x="1484.1" y="811.12" width="4" height="1.7" fill="#8fd3f6"/><rect x="1484.1" y="814.81" width="18" height="1.7" fill="#e3e3e3"/><rect x="1484.1" y="814.81" width="16" height="1.7" fill="#8fd3f6"/><rect x="1484.1" y="818.50" width="11" height="1.7" fill="#e3e3e3"/><rect x="1484.1" y="818.50" width="4" height="1.7" fill="#8fd3f6"/><rect x="1484.1" y="822.19" width="16" height="1.7" fill="#e3e3e3"/><rect x="1484.1" y="822.19" width="16" height="1.7" fill="#8fd3f6"/><rect x="1484.1" y="825.88" width="6" height="1.7" fill="#e3e3e3"/><rect x="1484.1" y="825.88" width="6" height="1.7" fill="#8fd3f6"/><rect x="1484.1" y="829.57" width="12" height="1.7" fill="#e3e3e3"/><rect x="1484.1" y="829.57" width="7" height="1.7" fill="#8fd3f6"/><rect x="1484.1" y="833.26" width="8" height="1.7" fill="#e3e3e3"/><rect x="1484.1" y="833.26" width="8" height="1.7" fill="#8fd3f6"/><rect x="1484.1" y="836.95" width="8" height="1.7" fill="#e3e3e3"/><rect x="1484.1" y="836.95" width="8" height="1.7" fill="#8fd3f6"/><rect x="1484.1" y="840.64" width="4" height="1.7" fill="#e3e3e3"/><rect x="1484.1" y="840.64" width="4" height="1.7" fill="#8fd3f6"/><rect x="1484.1" y="844.33" width="11" height="1.7" fill="#e3e3e3"/><rect x="1484.1" y="844.33" width="8" height="1.7" fill="#8fd3f6"/><rect x="1484.1" y="848.02" width="16" height="1.7" fill="#e3e3e3"/><rect x="1484.1" y="848.02" width="9" height="1.7" fill="#8fd3f6"/><rect x="1484.1" y="851.71" width="14" height="1.7" fill="#e3e3e3"/><rect x="1484.1" y="851.71" width="14" height="1.7" fill="#8fd3f6"/><rect x="1484.1" y="855.40" width="3" height="1.7" fill="#e3e3e3"/><rect x="1484.1" y="855.40" width="1" height="1.7" fill="#8fd3f6"/><rect x="1484.1" y="859.09" width="12" height="1.7" fill="#e3e3e3"/><rect x="1484.1" y="859.09" width="12" height="1.7" fill="#8fd3f6"/><rect x="1484.1" y="862.78" width="8" height="1.7" fill="#e3e3e3"/><rect x="1484.1" y="862.78" width="8" height="1.7" fill="#8fd3f6"/><rect x="1484.1" y="866.47" width="24" height="1.7" fill="#e3e3e3"/><rect x="1484.1" y="866.47" width="8" height="1.7" fill="#8fd3f6"/><rect x="1484.1" y="870.16" width="7" height="1.7" fill="#e3e3e3"/><rect x="1484.1" y="870.16" width="7" height="1.7" fill="#8fd3f6"/><rect x="1484.1" y="873.85" width="20" height="1.7" fill="#e3e3e3"/><rect x="1484.1" y="873.85" width="4" height="1.7" fill="#8fd3f6"/><rect x="1484.1" y="877.54" width="4" height="1.7" fill="#e3e3e3"/><rect x="1484.1" y="877.54" width="4" height="1.7" fill="#8fd3f6"/><rect x="1484.1" y="881.23" width="7" height="1.7" fill="#e3e3e3"/><rect x="1484.1" y="881.23" width="7" height="1.7" fill="#8fd3f6"/><rect x="1484.1" y="884.92" width="20" height="1.7" fill="#e3e3e3"/><rect x="1484.1" y="884.92" width="11" height="1.7" fill="#8fd3f6"/><rect x="1484.1" y="888.61" width="11" height="1.7" fill="#e3e3e3"/><rect x="1484.1" y="888.61" width="4" height="1.7" fill="#8fd3f6"/><rect x="1484.1" y="892.30" width="17" height="1.7" fill="#e3e3e3"/><rect x="1484.1" y="892.30" width="8" height="1.7" fill="#8fd3f6"/><rect x="1484.1" y="895.99" width="28" height="1.7" fill="#e3e3e3"/><rect x="1484.1" y="895.99" width="12" height="1.7" fill="#8fd3f6"/><rect x="1484.1" y="899.68" width="5" height="1.7" fill="#e3e3e3"/><rect x="1484.1" y="899.68" width="5" height="1.7" fill="#8fd3f6"/><rect x="1484.1" y="903.37" width="13" height="1.7" fill="#e3e3e3"/><rect x="1484.1" y="903.37" width="6" height="1.7" fill="#8fd3f6"/><rect x="1484.1" y="907.06" width="22" height="1.7" fill="#e3e3e3"/><rect x="1484.1" y="907.06" width="6" height="1.7" fill="#8fd3f6"/><rect x="1484.1" y="910.75" width="16" height="1.7" fill="#e3e3e3"/><rect x="1484.1" y="910.75" width="16" height="1.7" fill="#8fd3f6"/><rect x="1484.1" y="914.44" width="5" height="1.7" fill="#e3e3e3"/><rect x="1484.1" y="914.44" width="5" height="1.7" fill="#8fd3f6"/><rect x="1484.1" y="918.13" width="19" height="1.7" fill="#e3e3e3"/><rect x="1484.1" y="918.13" width="3" height="1.7" fill="#8fd3f6"/><rect x="1484.1" y="921.82" width="6" height="1.7" fill="#e3e3e3"/><rect x="1484.1" y="921.82" width="4" height="1.7" fill="#8fd3f6"/><rect x="1484.1" y="925.51" width="10" height="1.7" fill="#e3e3e3"/><rect x="1484.1" y="925.51" width="7" height="1.7" fill="#8fd3f6"/><rect x="1484.1" y="929.20" width="11" height="1.7" fill="#e3e3e3"/><rect x="1484.1" y="929.20" width="11" height="1.7" fill="#8fd3f6"/><rect x="1484.1" y="932.89" width="11" height="1.7" fill="#e3e3e3"/><rect x="1484.1" y="932.89" width="11" height="1.7" fill="#8fd3f6"/><rect x="1484.1" y="936.58" width="4" height="1.7" fill="#e3e3e3"/><rect x="1484.1" y="936.58" width="4" height="1.7" fill="#8fd3f6"/><rect x="1484.1" y="940.27" width="7" height="1.7" fill="#e3e3e3"/><rect x="1484.1" y="943.96" width="16" height="1.7" fill="#e3e3e3"/><rect x="1484.1" y="943.96" width="11" height="1.7" fill="#8fd3f6"/><rect x="1481.8" y="669.2" width="36.6" height="9" fill="none" stroke="#c4c4c4" stroke-width="1.1"/></svg>
<div class="a" style="left:906.8px;top:759.2px;width:167.4px;height:82.1px;background:#fff;border:1px solid #d6d6d6;box-shadow:0 1px 3px rgba(0,0,0,0.18)"></div>
<div class="t" style="top:773px;font-size:14.6px;color:#1a1a1a;font-weight:bold;left:922.70px;">Corporate</div>
<div class="t" style="top:795px;font-size:14.6px;color:#333;letter-spacing:0.45px;left:922.70px;">510 rows</div>
<div class="t" style="top:817px;font-size:13px;color:#777;left:922.70px;">510 (100%) highlighted</div>
<svg class="a" style="left:0;top:0" width="1000" height="800"><path d="M889.6 744.5L889.2 734Q889.6 731 891.3 731Q893.2 731 893.6 734L894 739.5Q894.5 737.8 896.3 738Q898 738.2 898.4 740Q899 738.5 900.6 738.7Q902.3 739 902.6 741Q903.3 739.8 905 740.2Q907.2 740.8 907.3 743.5L907.2 748Q907 751 904.5 754L904.5 756.6L893 756.6L892.4 754.5Q888 749.5 885.5 746.5Q884.2 744.8 885.5 743.3Q887 742 889.6 744.5Z" fill="#fff" stroke="#000" stroke-width="1.1" stroke-linejoin="round"/>
<path d="M896 745.5V751.5M899.2 745.5V751.5M902.4 745.5V751.5" stroke="#000" stroke-width="1"/></svg>
<div class="a" style="left:500.20px;top:988.00px;width:709.00px;height:9.60px;background:#c4c4c4;"></div>
<div class="a" style="left:55.00px;top:1001.40px;width:1940.10px;height:273.60px;background:#fff;"></div>
<div class="a" style="left:55.00px;top:1001.40px;width:1940.10px;height:1.40px;background:#dedede;"></div>
<div class="a" style="left:55.00px;top:1042.20px;width:1940.10px;height:29.45px;background:#f4f4f4;"></div>
<div class="a" style="left:55.00px;top:1101.10px;width:1940.10px;height:29.45px;background:#f4f4f4;"></div>
<div class="a" style="left:55.00px;top:1160.00px;width:1940.10px;height:29.45px;background:#f4f4f4;"></div>
<div class="a" style="left:55.00px;top:1218.90px;width:1940.10px;height:29.45px;background:#f4f4f4;"></div>
<div class="a" style="left:55.00px;top:1040.80px;width:1940.10px;height:1.50px;background:#d6d6d6;"></div>
<div class="a" style="left:147.80px;top:1002.80px;width:1.30px;height:272.20px;background:#dadada;"></div>
<div class="a" style="left:250.80px;top:1002.80px;width:1.30px;height:272.20px;background:#dadada;"></div>
<div class="a" style="left:364.70px;top:1002.80px;width:1.30px;height:272.20px;background:#dadada;"></div>
<div class="a" style="left:467.70px;top:1002.80px;width:1.30px;height:272.20px;background:#dadada;"></div>
<div class="a" style="left:549.20px;top:1002.80px;width:1.30px;height:272.20px;background:#dadada;"></div>
<div class="a" style="left:702.10px;top:1002.80px;width:1.30px;height:272.20px;background:#dadada;"></div>
<div class="a" style="left:783.20px;top:1002.80px;width:1.30px;height:272.20px;background:#dadada;"></div>
<div class="a" style="left:935.90px;top:1002.80px;width:1.30px;height:272.20px;background:#dadada;"></div>
<div class="a" style="left:1039.20px;top:1002.80px;width:1.30px;height:272.20px;background:#dadada;"></div>
<div class="a" style="left:1175.60px;top:1002.80px;width:1.30px;height:272.20px;background:#dadada;"></div>
<div class="a" style="left:1358.30px;top:1002.80px;width:1.30px;height:272.20px;background:#dadada;"></div>
<div class="a" style="left:1511.00px;top:1002.80px;width:1.30px;height:272.20px;background:#dadada;"></div>
<div class="a" style="left:1752.60px;top:1002.80px;width:1.30px;height:272.20px;background:#dadada;"></div>
<div class="a" style="left:1994.50px;top:1002.80px;width:1.30px;height:272.20px;background:#dadada;"></div>
<div class="t" style="top:1015px;font-size:14.4px;color:#1a1a1a;font-weight:bold;left:63.30px;">Sales</div>
<div class="t" style="top:1050px;font-size:15.3px;color:#1a1a1a;left:-56.60px;width:200px;text-align:right;">18.648</div>
<div class="t" style="top:1079px;font-size:15.3px;color:#1a1a1a;left:-56.60px;width:200px;text-align:right;">178.384</div>
<div class="t" style="top:1109px;font-size:15.3px;color:#1a1a1a;left:-56.60px;width:200px;text-align:right;">15.552</div>
<div class="t" style="top:1138px;font-size:15.3px;color:#1a1a1a;left:-56.60px;width:200px;text-align:right;">39.072</div>
<div class="t" style="top:1167px;font-size:15.3px;color:#1a1a1a;left:-56.60px;width:200px;text-align:right;">10.368</div>
<div class="t" style="top:1197px;font-size:15.3px;color:#1a1a1a;left:-56.60px;width:200px;text-align:right;">166.84</div>
<div class="t" style="top:1226px;font-size:15.3px;color:#1a1a1a;left:-56.60px;width:200px;text-align:right;">15.216</div>
<div class="t" style="top:1256px;font-size:15.3px;color:#1a1a1a;left:-56.60px;width:200px;text-align:right;">11.36</div>
<div class="t" style="top:1015px;font-size:14.4px;color:#1a1a1a;font-weight:bold;left:156.70px;">Quantity</div>
<div class="t" style="top:1050px;font-size:15.3px;color:#1a1a1a;left:46.40px;width:200px;text-align:right;">7</div>
<div class="t" style="top:1079px;font-size:15.3px;color:#1a1a1a;left:46.40px;width:200px;text-align:right;">2</div>
<div class="t" style="top:1109px;font-size:15.3px;color:#1a1a1a;left:46.40px;width:200px;text-align:right;">3</div>
<div class="t" style="top:1138px;font-size:15.3px;color:#1a1a1a;left:46.40px;width:200px;text-align:right;">6</div>
<div class="t" style="top:1167px;font-size:15.3px;color:#1a1a1a;left:46.40px;width:200px;text-align:right;">2</div>
<div class="t" style="top:1197px;font-size:15.3px;color:#1a1a1a;left:46.40px;width:200px;text-align:right;">5</div>
<div class="t" style="top:1226px;font-size:15.3px;color:#1a1a1a;left:46.40px;width:200px;text-align:right;">1</div>
<div class="t" style="top:1256px;font-size:15.3px;color:#1a1a1a;left:46.40px;width:200px;text-align:right;">2</div>
<div class="t" style="top:1015px;font-size:14.4px;color:#1a1a1a;font-weight:bold;left:259.70px;">Profit</div>
<div class="t" style="top:1050px;font-size:15.3px;color:#1a1a1a;left:160.30px;width:200px;text-align:right;">-12.432</div>
<div class="t" style="top:1079px;font-size:15.3px;color:#1a1a1a;left:160.30px;width:200px;text-align:right;">22.298</div>
<div class="t" style="top:1109px;font-size:15.3px;color:#1a1a1a;left:160.30px;width:200px;text-align:right;">5.4432</div>
<div class="t" style="top:1138px;font-size:15.3px;color:#1a1a1a;left:160.30px;width:200px;text-align:right;">9.768</div>
<div class="t" style="top:1167px;font-size:15.3px;color:#1a1a1a;left:160.30px;width:200px;text-align:right;">3.6288</div>
<div class="t" style="top:1197px;font-size:15.3px;color:#1a1a1a;left:160.30px;width:200px;text-align:right;">18.7695</div>
<div class="t" style="top:1226px;font-size:15.3px;color:#1a1a1a;left:160.30px;width:200px;text-align:right;">2.2824</div>
<div class="t" style="top:1256px;font-size:15.3px;color:#1a1a1a;left:160.30px;width:200px;text-align:right;">5.3392</div>
<div class="t" style="top:1015px;font-size:14.4px;color:#1a1a1a;font-weight:bold;left:373.60px;">Discount</div>
<div class="t" style="top:1050px;font-size:15.3px;color:#1a1a1a;left:263.30px;width:200px;text-align:right;">0.7</div>
<div class="t" style="top:1079px;font-size:15.3px;color:#1a1a1a;left:263.30px;width:200px;text-align:right;">0.2</div>
<div class="t" style="top:1109px;font-size:15.3px;color:#1a1a1a;left:263.30px;width:200px;text-align:right;">0.2</div>
<div class="t" style="top:1138px;font-size:15.3px;color:#1a1a1a;left:263.30px;width:200px;text-align:right;">0.2</div>
<div class="t" style="top:1167px;font-size:15.3px;color:#1a1a1a;left:263.30px;width:200px;text-align:right;">0.2</div>
<div class="t" style="top:1197px;font-size:15.3px;color:#1a1a1a;left:263.30px;width:200px;text-align:right;">0.2</div>
<div class="t" style="top:1226px;font-size:15.3px;color:#1a1a1a;left:263.30px;width:200px;text-align:right;">0.2</div>
<div class="t" style="top:1256px;font-size:15.3px;color:#1a1a1a;left:263.30px;width:200px;text-align:right;">0</div>
<div class="t" style="top:1015px;font-size:14.4px;color:#1a1a1a;font-weight:bold;left:476.60px;">Region</div>
<div class="t" style="top:1050px;font-size:15.3px;color:#1a1a1a;left:473.00px;">South</div>
<div class="t" style="top:1079px;font-size:15.3px;color:#1a1a1a;left:473.00px;">South</div>
<div class="t" style="top:1109px;font-size:15.3px;color:#1a1a1a;left:473.00px;">South</div>
<div class="t" style="top:1138px;font-size:15.3px;color:#1a1a1a;left:473.00px;">South</div>
<div class="t" style="top:1167px;font-size:15.3px;color:#1a1a1a;left:473.00px;">South</div>
<div class="t" style="top:1197px;font-size:15.3px;color:#1a1a1a;left:473.00px;">South</div>
<div class="t" style="top:1226px;font-size:15.3px;color:#1a1a1a;left:473.00px;">South</div>
<div class="t" style="top:1256px;font-size:15.3px;color:#1a1a1a;left:473.00px;">South</div>
<div class="t" style="top:1015px;font-size:14.4px;color:#1a1a1a;font-weight:bold;left:558.10px;">State</div>
<div class="t" style="top:1050px;font-size:15.3px;color:#1a1a1a;left:554.50px;">North Carolina</div>
<div class="t" style="top:1079px;font-size:15.3px;color:#1a1a1a;left:554.50px;">Florida</div>
<div class="t" style="top:1109px;font-size:15.3px;color:#1a1a1a;left:554.50px;">Florida</div>
<div class="t" style="top:1138px;font-size:15.3px;color:#1a1a1a;left:554.50px;">North Carolina</div>
<div class="t" style="top:1167px;font-size:15.3px;color:#1a1a1a;left:554.50px;">North Carolina</div>
<div class="t" style="top:1197px;font-size:15.3px;color:#1a1a1a;left:554.50px;">North Carolina</div>
<div class="t" style="top:1226px;font-size:15.3px;color:#1a1a1a;left:554.50px;">North Carolina</div>
<div class="t" style="top:1256px;font-size:15.3px;color:#1a1a1a;left:554.50px;">Louisiana</div>
<div class="t" style="top:1015px;font-size:14.4px;color:#1a1a1a;font-weight:bold;left:711.00px;">Row ID</div>
<div class="t" style="top:1050px;font-size:15.3px;color:#1a1a1a;left:578.80px;width:200px;text-align:right;">231</div>
<div class="t" style="top:1079px;font-size:15.3px;color:#1a1a1a;left:578.80px;width:200px;text-align:right;">315</div>
<div class="t" style="top:1109px;font-size:15.3px;color:#1a1a1a;left:578.80px;width:200px;text-align:right;">316</div>
<div class="t" style="top:1138px;font-size:15.3px;color:#1a1a1a;left:578.80px;width:200px;text-align:right;">404</div>
<div class="t" style="top:1167px;font-size:15.3px;color:#1a1a1a;left:578.80px;width:200px;text-align:right;">705</div>
<div class="t" style="top:1197px;font-size:15.3px;color:#1a1a1a;left:578.80px;width:200px;text-align:right;">706</div>
<div class="t" style="top:1226px;font-size:15.3px;color:#1a1a1a;left:578.80px;width:200px;text-align:right;">707</div>
<div class="t" style="top:1256px;font-size:15.3px;color:#1a1a1a;left:578.80px;width:200px;text-align:right;">764</div>
<div class="t" style="top:1015px;font-size:14.4px;color:#1a1a1a;font-weight:bold;left:792.10px;">Order ID</div>
<div class="t" style="top:1050px;font-size:15.3px;color:#1a1a1a;left:788.50px;">US-2015-156216</div>
<div class="t" style="top:1079px;font-size:15.3px;color:#1a1a1a;left:788.50px;">CA-2015-167850</div>
<div class="t" style="top:1109px;font-size:15.3px;color:#1a1a1a;left:788.50px;">CA-2015-167850</div>
<div class="t" style="top:1138px;font-size:15.3px;color:#1a1a1a;left:788.50px;">CA-2015-155208</div>
<div class="t" style="top:1167px;font-size:15.3px;color:#1a1a1a;left:788.50px;">CA-2015-138527</div>
<div class="t" style="top:1197px;font-size:15.3px;color:#1a1a1a;left:788.50px;">CA-2015-138527</div>
<div class="t" style="top:1226px;font-size:15.3px;color:#1a1a1a;left:788.50px;">CA-2015-138527</div>
<div class="t" style="top:1256px;font-size:15.3px;color:#1a1a1a;left:788.50px;">CA-2015-162775</div>
<div class="t" style="top:1015px;font-size:14.4px;color:#1a1a1a;font-weight:bold;left:944.80px;">Segment</div>
<div class="t" style="top:1050px;font-size:15.3px;color:#1a1a1a;left:941.20px;">Corporate</div>
<div class="t" style="top:1079px;font-size:15.3px;color:#1a1a1a;left:941.20px;">Corporate</div>
<div class="t" style="top:1109px;font-size:15.3px;color:#1a1a1a;left:941.20px;">Corporate</div>
<div class="t" style="top:1138px;font-size:15.3px;color:#1a1a1a;left:941.20px;">Corporate</div>
<div class="t" style="top:1167px;font-size:15.3px;color:#1a1a1a;left:941.20px;">Corporate</div>
<div class="t" style="top:1197px;font-size:15.3px;color:#1a1a1a;left:941.20px;">Corporate</div>
<div class="t" style="top:1226px;font-size:15.3px;color:#1a1a1a;left:941.20px;">Corporate</div>
<div class="t" style="top:1256px;font-size:15.3px;color:#1a1a1a;left:941.20px;">Corporate</div>
<div class="t" style="top:1015px;font-size:14.4px;color:#1a1a1a;font-weight:bold;left:1048.10px;">Customer ID</div>
<div class="t" style="top:1050px;font-size:15.3px;color:#1a1a1a;left:1044.50px;">EA-14035</div>
<div class="t" style="top:1079px;font-size:15.3px;color:#1a1a1a;left:1044.50px;">AG-10525</div>
<div class="t" style="top:1109px;font-size:15.3px;color:#1a1a1a;left:1044.50px;">AG-10525</div>
<div class="t" style="top:1138px;font-size:15.3px;color:#1a1a1a;left:1044.50px;">SP-20650</div>
<div class="t" style="top:1167px;font-size:15.3px;color:#1a1a1a;left:1044.50px;">BN-11470</div>
<div class="t" style="top:1197px;font-size:15.3px;color:#1a1a1a;left:1044.50px;">BN-11470</div>
<div class="t" style="top:1226px;font-size:15.3px;color:#1a1a1a;left:1044.50px;">BN-11470</div>
<div class="t" style="top:1256px;font-size:15.3px;color:#1a1a1a;left:1044.50px;">CS-12250</div>
<div class="t" style="top:1015px;font-size:14.4px;color:#1a1a1a;font-weight:bold;left:1184.50px;">Customer Name</div>
<div class="t" style="top:1050px;font-size:15.3px;color:#1a1a1a;left:1180.90px;">Erin Ashbrook</div>
<div class="t" style="top:1079px;font-size:15.3px;color:#1a1a1a;left:1180.90px;">Andy Gerbode</div>
<div class="t" style="top:1109px;font-size:15.3px;color:#1a1a1a;left:1180.90px;">Andy Gerbode</div>
<div class="t" style="top:1138px;font-size:15.3px;color:#1a1a1a;left:1180.90px;">Stephanie Phelps</div>
<div class="t" style="top:1167px;font-size:15.3px;color:#1a1a1a;left:1180.90px;">Brad Norvell</div>
<div class="t" style="top:1197px;font-size:15.3px;color:#1a1a1a;left:1180.90px;">Brad Norvell</div>
<div class="t" style="top:1226px;font-size:15.3px;color:#1a1a1a;left:1180.90px;">Brad Norvell</div>
<div class="t" style="top:1256px;font-size:15.3px;color:#1a1a1a;left:1180.90px;">Chris Selesnick</div>
<div class="t" style="top:1015px;font-size:14.4px;color:#1a1a1a;font-weight:bold;left:1367.20px;">Ship Mode</div>
<div class="t" style="top:1050px;font-size:15.3px;color:#1a1a1a;left:1363.60px;">Standard Class</div>
<div class="t" style="top:1079px;font-size:15.3px;color:#1a1a1a;left:1363.60px;">Standard Class</div>
<div class="t" style="top:1109px;font-size:15.3px;color:#1a1a1a;left:1363.60px;">Standard Class</div>
<div class="t" style="top:1138px;font-size:15.3px;color:#1a1a1a;left:1363.60px;">Standard Class</div>
<div class="t" style="top:1167px;font-size:15.3px;color:#1a1a1a;left:1363.60px;">Standard Class</div>
<div class="t" style="top:1197px;font-size:15.3px;color:#1a1a1a;left:1363.60px;">Standard Class</div>
<div class="t" style="top:1226px;font-size:15.3px;color:#1a1a1a;left:1363.60px;">Standard Class</div>
<div class="t" style="top:1256px;font-size:15.3px;color:#1a1a1a;left:1363.60px;">Second Class</div>
<div class="t" style="top:1015px;font-size:14.4px;color:#1a1a1a;font-weight:bold;left:1519.90px;">Order Date</div>
<div class="t" style="top:1050px;font-size:15.3px;color:#1a1a1a;letter-spacing:0.22px;left:1516.30px;">09/13/2015, 12:00:00 AM</div>
<div class="t" style="top:1079px;font-size:15.3px;color:#1a1a1a;letter-spacing:0.22px;left:1516.30px;">08/09/2015, 12:00:00 AM</div>
<div class="t" style="top:1109px;font-size:15.3px;color:#1a1a1a;letter-spacing:0.22px;left:1516.30px;">08/09/2015, 12:00:00 AM</div>
<div class="t" style="top:1138px;font-size:15.3px;color:#1a1a1a;letter-spacing:0.22px;left:1516.30px;">04/16/2015, 12:00:00 AM</div>
<div class="t" style="top:1167px;font-size:15.3px;color:#1a1a1a;letter-spacing:0.22px;left:1516.30px;">09/12/2015, 12:00:00 AM</div>
<div class="t" style="top:1197px;font-size:15.3px;color:#1a1a1a;letter-spacing:0.22px;left:1516.30px;">09/12/2015, 12:00:00 AM</div>
<div class="t" style="top:1226px;font-size:15.3px;color:#1a1a1a;letter-spacing:0.22px;left:1516.30px;">09/12/2015, 12:00:00 AM</div>
<div class="t" style="top:1256px;font-size:15.3px;color:#1a1a1a;letter-spacing:0.22px;left:1516.30px;">01/13/2015, 12:00:00 AM</div>
<div class="t" style="top:1015px;font-size:14.4px;color:#1a1a1a;font-weight:bold;left:1761.50px;">Ship Date</div>
<div class="t" style="top:1050px;font-size:15.3px;color:#1a1a1a;letter-spacing:0.22px;left:1757.90px;">09/17/2015, 12:00:00 AM</div>
<div class="t" style="top:1079px;font-size:15.3px;color:#1a1a1a;letter-spacing:0.22px;left:1757.90px;">08/16/2015, 12:00:00 AM</div>
<div class="t" style="top:1109px;font-size:15.3px;color:#1a1a1a;letter-spacing:0.22px;left:1757.90px;">08/16/2015, 12:00:00 AM</div>
<div class="t" style="top:1138px;font-size:15.3px;color:#1a1a1a;letter-spacing:0.22px;left:1757.90px;">04/20/2015, 12:00:00 AM</div>
<div class="t" style="top:1167px;font-size:15.3px;color:#1a1a1a;letter-spacing:0.22px;left:1757.90px;">09/17/2015, 12:00:00 AM</div>
<div class="t" style="top:1197px;font-size:15.3px;color:#1a1a1a;letter-spacing:0.22px;left:1757.90px;">09/17/2015, 12:00:00 AM</div>
<div class="t" style="top:1226px;font-size:15.3px;color:#1a1a1a;letter-spacing:0.22px;left:1757.90px;">09/17/2015, 12:00:00 AM</div>
<div class="t" style="top:1256px;font-size:15.3px;color:#1a1a1a;letter-spacing:0.22px;left:1757.90px;">01/15/2015, 12:00:00 AM</div>
<div class="a" style="left:55.00px;top:1279.60px;width:1062.00px;height:1.40px;background:#c4c4c4;"></div>
</body></html>
